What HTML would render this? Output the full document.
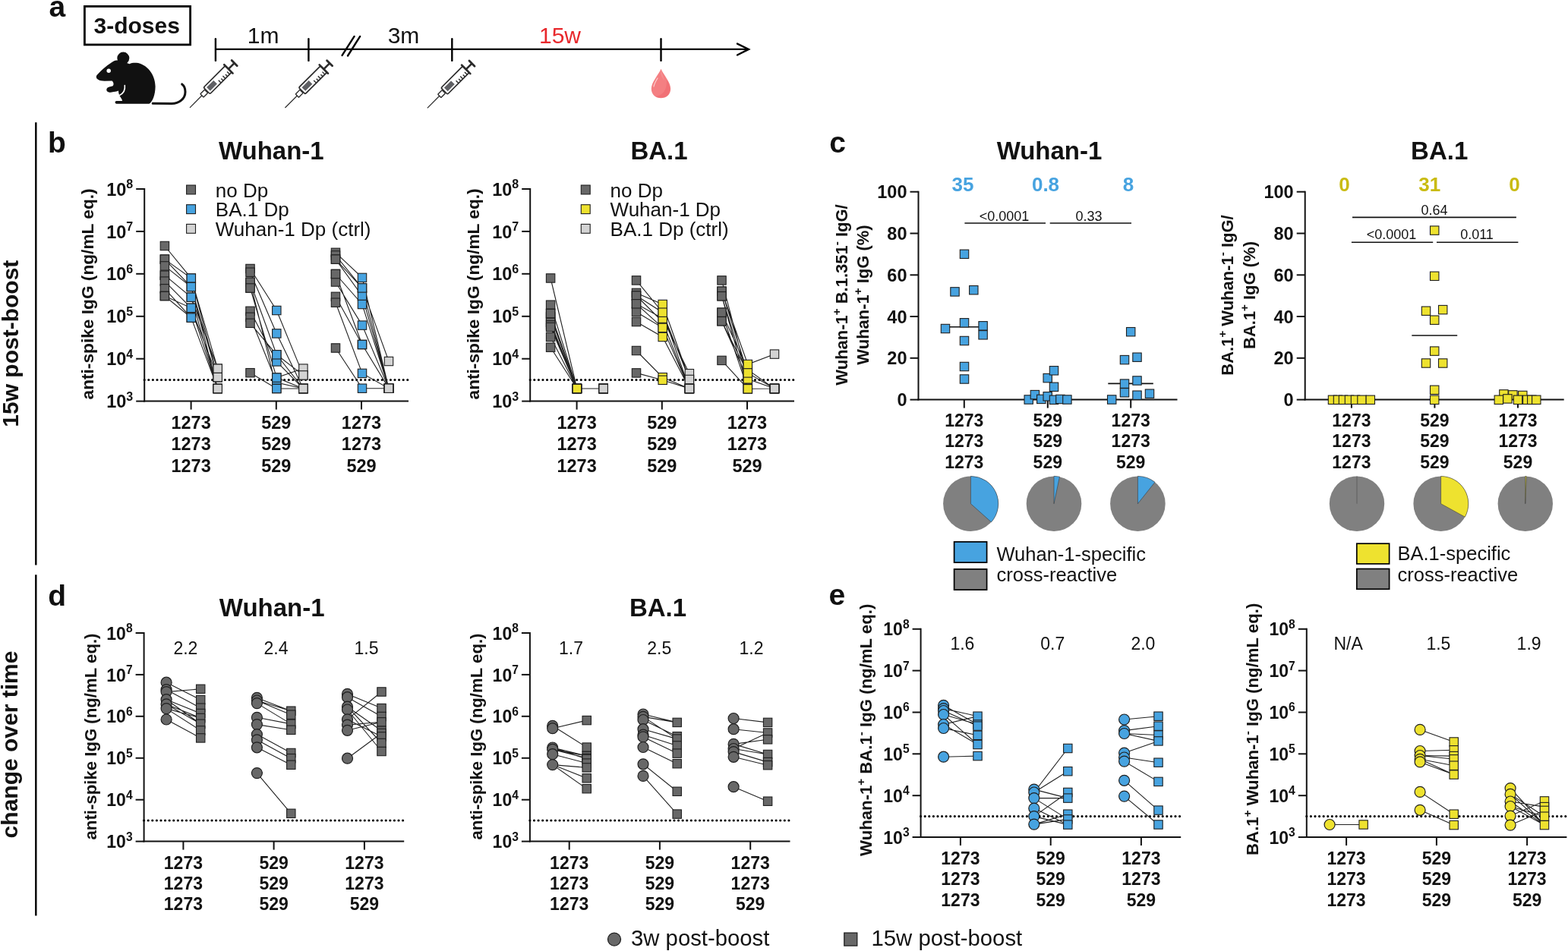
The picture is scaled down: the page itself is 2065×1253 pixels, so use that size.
<!DOCTYPE html><html><head><meta charset="utf-8"><title>Figure</title><style>html,body{margin:0;padding:0;background:#fff;width:2065px;height:1253px;overflow:hidden}svg{display:block}</style></head><body><svg width="2065" height="1253" viewBox="0 0 2065 1253" font-family="'Liberation Sans', Arial, Helvetica, sans-serif">
<rect width="2065" height="1253" fill="#fff"/>
<text x="64.5" y="21.8" font-size="39" font-weight="bold" text-anchor="start" fill="#111" >a</text>
<rect x="111.4" y="8.4" width="139.2" height="50.5" fill="none" stroke="#000" stroke-width="2.8"/>
<text x="123.5" y="44.2" font-size="30" font-weight="bold" text-anchor="start" fill="#111" >3-doses</text>
<line x1="283.0" y1="64.9" x2="985.0" y2="64.9" stroke="#000" stroke-width="2.4" />
<line x1="283.9" y1="51.2" x2="283.9" y2="79.9" stroke="#000" stroke-width="2.4" stroke-linecap="round"/>
<line x1="406.4" y1="51.2" x2="406.4" y2="79.9" stroke="#000" stroke-width="2.4" stroke-linecap="round"/>
<line x1="595.3" y1="51.2" x2="595.3" y2="79.9" stroke="#000" stroke-width="2.4" stroke-linecap="round"/>
<line x1="870.5" y1="51.2" x2="870.5" y2="79.9" stroke="#000" stroke-width="2.4" stroke-linecap="round"/>
<path d="M971,57.6 L986,64.9 L971,72.5" fill="none" stroke="#000" stroke-width="2.4" stroke-linecap="round" stroke-linejoin="miter"/>
<line x1="450.6" y1="72.9" x2="466.6" y2="47.9" stroke="#000" stroke-width="2.4" stroke-linecap="round"/>
<line x1="458.0" y1="73.5" x2="474.2" y2="47.9" stroke="#000" stroke-width="2.4" stroke-linecap="round"/>
<text x="346.6" y="56.6" font-size="30" font-weight="normal" text-anchor="middle" fill="#111" >1m</text>
<text x="531.5" y="56.7" font-size="30" font-weight="normal" text-anchor="middle" fill="#111" >3m</text>
<text x="737.5" y="56.7" font-size="30" font-weight="normal" text-anchor="middle" fill="#e8282c" >15w</text>
<g transform="translate(250,141.8) rotate(-45)"><line x1="0" y1="0" x2="23" y2="0" stroke="#2b2b2b" stroke-width="1.2"/><rect x="22.5" y="-3" width="8" height="6" rx="0.8" fill="#fff" stroke="#2b2b2b" stroke-width="1.4"/><rect x="31.5" y="-6" width="40.5" height="12" rx="1.8" fill="#fff" stroke="#2b2b2b" stroke-width="1.7"/><rect x="34.6" y="-3.3" width="12.9" height="6.6" fill="#5f6064"/><line x1="52.2" y1="6" x2="52.2" y2="1.2" stroke="#2b2b2b" stroke-width="1.4"/><line x1="56.2" y1="6" x2="56.2" y2="2.2" stroke="#2b2b2b" stroke-width="1.4"/><line x1="60.2" y1="6" x2="60.2" y2="1.2" stroke="#2b2b2b" stroke-width="1.4"/><line x1="64.2" y1="6" x2="64.2" y2="2.2" stroke="#2b2b2b" stroke-width="1.4"/><line x1="68.2" y1="6" x2="68.2" y2="1.2" stroke="#2b2b2b" stroke-width="1.4"/><line x1="72" y1="-8" x2="72" y2="8" stroke="#2b2b2b" stroke-width="2.6" stroke-linecap="round"/><line x1="72" y1="0" x2="83" y2="0" stroke="#2b2b2b" stroke-width="2.6"/><line x1="83" y1="-5" x2="83" y2="5" stroke="#2b2b2b" stroke-width="2.8" stroke-linecap="round"/></g>
<g transform="translate(375.4,142) rotate(-45)"><line x1="0" y1="0" x2="23" y2="0" stroke="#2b2b2b" stroke-width="1.2"/><rect x="22.5" y="-3" width="8" height="6" rx="0.8" fill="#fff" stroke="#2b2b2b" stroke-width="1.4"/><rect x="31.5" y="-6" width="40.5" height="12" rx="1.8" fill="#fff" stroke="#2b2b2b" stroke-width="1.7"/><rect x="34.6" y="-3.3" width="12.9" height="6.6" fill="#5f6064"/><line x1="52.2" y1="6" x2="52.2" y2="1.2" stroke="#2b2b2b" stroke-width="1.4"/><line x1="56.2" y1="6" x2="56.2" y2="2.2" stroke="#2b2b2b" stroke-width="1.4"/><line x1="60.2" y1="6" x2="60.2" y2="1.2" stroke="#2b2b2b" stroke-width="1.4"/><line x1="64.2" y1="6" x2="64.2" y2="2.2" stroke="#2b2b2b" stroke-width="1.4"/><line x1="68.2" y1="6" x2="68.2" y2="1.2" stroke="#2b2b2b" stroke-width="1.4"/><line x1="72" y1="-8" x2="72" y2="8" stroke="#2b2b2b" stroke-width="2.6" stroke-linecap="round"/><line x1="72" y1="0" x2="83" y2="0" stroke="#2b2b2b" stroke-width="2.6"/><line x1="83" y1="-5" x2="83" y2="5" stroke="#2b2b2b" stroke-width="2.8" stroke-linecap="round"/></g>
<g transform="translate(562.8,142.3) rotate(-45)"><line x1="0" y1="0" x2="23" y2="0" stroke="#2b2b2b" stroke-width="1.2"/><rect x="22.5" y="-3" width="8" height="6" rx="0.8" fill="#fff" stroke="#2b2b2b" stroke-width="1.4"/><rect x="31.5" y="-6" width="40.5" height="12" rx="1.8" fill="#fff" stroke="#2b2b2b" stroke-width="1.7"/><rect x="34.6" y="-3.3" width="12.9" height="6.6" fill="#5f6064"/><line x1="52.2" y1="6" x2="52.2" y2="1.2" stroke="#2b2b2b" stroke-width="1.4"/><line x1="56.2" y1="6" x2="56.2" y2="2.2" stroke="#2b2b2b" stroke-width="1.4"/><line x1="60.2" y1="6" x2="60.2" y2="1.2" stroke="#2b2b2b" stroke-width="1.4"/><line x1="64.2" y1="6" x2="64.2" y2="2.2" stroke="#2b2b2b" stroke-width="1.4"/><line x1="68.2" y1="6" x2="68.2" y2="1.2" stroke="#2b2b2b" stroke-width="1.4"/><line x1="72" y1="-8" x2="72" y2="8" stroke="#2b2b2b" stroke-width="2.6" stroke-linecap="round"/><line x1="72" y1="0" x2="83" y2="0" stroke="#2b2b2b" stroke-width="2.6"/><line x1="83" y1="-5" x2="83" y2="5" stroke="#2b2b2b" stroke-width="2.8" stroke-linecap="round"/></g>
<path d="M870.5,90.7 C874,99 883.2,108 883.2,117 C883.2,124.5 877.5,129.3 870.5,129.3 C863.5,129.3 857.8,124.5 857.8,117 C857.8,108 867,99 870.5,90.7 Z" fill="#f47f82"/>
<path d="M870.5,92 C872,97 874,102 875,106 C871,101 869,97 870.5,92Z" fill="#f69a9b" opacity="0.6"/>
<path d="M878,105 C883,112 883.5,120 880,125 C876,129 868,130 864,127 C872,126 879,119 878,105Z" fill="#ef6b70" opacity="0.7"/>
<path d="M866,103 C863,108 861.5,111 861,114" stroke="#fbd0d0" stroke-width="1.2" fill="none" stroke-linecap="round"/>
<g fill="#111"><circle cx="162.3" cy="76.6" r="8"/><path d="M128,98.5 C126,100.5 126.5,103.5 129.5,105 C131,106 134,106.7 137.5,106.7 L147.5,106.6 C149.8,108.5 150.2,111.5 148.6,113.3 L145,114.2 C141.5,114.6 139.6,117 140.6,119.6 C141.6,122 144.5,121.8 147,121.4 C150.5,121 153.5,120.6 156,119.6 C156,123 157,126 159,128.5 C160,130 161,131.5 161,133 L153.5,133 C151,133 151,136.5 153.5,136.8 L196.5,136.8 C201,134 204.5,125 204.6,114 C204.6,98 193,84 179.5,82.8 C176,82.6 173,83 170.5,84.3 L160,80.5 C156,79 152,79.4 149,81 C143,84.5 135,91 128,98.5 Z"/></g>
<circle cx="143.2" cy="93.2" r="2.7" fill="#fff"/>
<path d="M164.3,112.5 C165,118 162.5,123 157.5,125.5" stroke="#fff" stroke-width="1.6" fill="none" stroke-linecap="round"/>
<path d="M201.2,136.2 L226,136.6 C236,136.6 244,130 244,121 C244,116 242,112.5 239.7,110.9" stroke="#111" stroke-width="3" fill="none" stroke-linecap="round"/>
<line x1="47.3" y1="161.3" x2="47.3" y2="744.5" stroke="#000" stroke-width="2.4" />
<line x1="47.3" y1="757.3" x2="47.3" y2="1206.5" stroke="#000" stroke-width="2.4" />
<text transform="translate(23.5,452.7) rotate(-90)" x="0" y="0" font-size="30" font-weight="bold" text-anchor="middle" fill="#111" >15w post-boost</text>
<text transform="translate(23.4,981.0) rotate(-90)" x="0" y="0" font-size="30" font-weight="bold" text-anchor="middle" fill="#111" >change over time</text>
<text x="63.0" y="201.2" font-size="39" font-weight="bold" text-anchor="start" fill="#111" >b</text>
<text x="864.5" y="200.8" font-size="39" font-weight="bold" text-anchor="start" fill="#111" ></text>
<line x1="190.2" y1="248.0" x2="190.2" y2="529.6" stroke="#111" stroke-width="2" />
<line x1="189.2" y1="528.6" x2="538.0" y2="528.6" stroke="#111" stroke-width="2" />
<line x1="179.2" y1="528.6" x2="190.2" y2="528.6" stroke="#111" stroke-width="2" />
<text x="175.2" y="537.2" font-size="23.5" font-weight="bold" text-anchor="end" fill="#111">10<tspan font-size="16" dy="-9.7">3</tspan></text>
<line x1="179.2" y1="472.7" x2="190.2" y2="472.7" stroke="#111" stroke-width="2" />
<text x="175.2" y="481.3" font-size="23.5" font-weight="bold" text-anchor="end" fill="#111">10<tspan font-size="16" dy="-9.7">4</tspan></text>
<line x1="179.2" y1="416.8" x2="190.2" y2="416.8" stroke="#111" stroke-width="2" />
<text x="175.2" y="425.4" font-size="23.5" font-weight="bold" text-anchor="end" fill="#111">10<tspan font-size="16" dy="-9.7">5</tspan></text>
<line x1="179.2" y1="360.8" x2="190.2" y2="360.8" stroke="#111" stroke-width="2" />
<text x="175.2" y="369.4" font-size="23.5" font-weight="bold" text-anchor="end" fill="#111">10<tspan font-size="16" dy="-9.7">6</tspan></text>
<line x1="179.2" y1="304.9" x2="190.2" y2="304.9" stroke="#111" stroke-width="2" />
<text x="175.2" y="313.5" font-size="23.5" font-weight="bold" text-anchor="end" fill="#111">10<tspan font-size="16" dy="-9.7">7</tspan></text>
<line x1="179.2" y1="249.0" x2="190.2" y2="249.0" stroke="#111" stroke-width="2" />
<text x="175.2" y="257.6" font-size="23.5" font-weight="bold" text-anchor="end" fill="#111">10<tspan font-size="16" dy="-9.7">8</tspan></text>
<line x1="251.6" y1="528.6" x2="251.6" y2="539.6" stroke="#111" stroke-width="2" />
<line x1="363.8" y1="528.6" x2="363.8" y2="539.6" stroke="#111" stroke-width="2" />
<line x1="476.0" y1="528.6" x2="476.0" y2="539.6" stroke="#111" stroke-width="2" />
<text x="251.6" y="565.0" font-size="23.5" font-weight="bold" text-anchor="middle" fill="#111" >1273</text>
<text x="251.6" y="593.3" font-size="23.5" font-weight="bold" text-anchor="middle" fill="#111" >1273</text>
<text x="251.6" y="621.6" font-size="23.5" font-weight="bold" text-anchor="middle" fill="#111" >1273</text>
<text x="363.8" y="565.0" font-size="23.5" font-weight="bold" text-anchor="middle" fill="#111" >529</text>
<text x="363.8" y="593.3" font-size="23.5" font-weight="bold" text-anchor="middle" fill="#111" >529</text>
<text x="363.8" y="621.6" font-size="23.5" font-weight="bold" text-anchor="middle" fill="#111" >529</text>
<text x="476.0" y="565.0" font-size="23.5" font-weight="bold" text-anchor="middle" fill="#111" >1273</text>
<text x="476.0" y="593.3" font-size="23.5" font-weight="bold" text-anchor="middle" fill="#111" >1273</text>
<text x="476.0" y="621.6" font-size="23.5" font-weight="bold" text-anchor="middle" fill="#111" >529</text>
<line x1="190.2" y1="500.5" x2="538.0" y2="500.5" stroke="#000" stroke-width="3.2" stroke-linecap="round" stroke-dasharray="0 5.59"/>
<text x="357.3" y="210.2" font-size="33" font-weight="bold" text-anchor="middle" fill="#111" >Wuhan-1</text>
<text transform="translate(123.0,387.4) rotate(-90)" x="0" y="0" font-size="22.7" font-weight="bold" text-anchor="middle" fill="#111" >anti-spike IgG (ng/mL eq.)</text>
<rect x="245.6" y="244.0" width="11.9" height="11.9" fill="#686868" stroke="#1f1f1f" stroke-width="1.1"/>
<text x="283.8" y="259.5" font-size="26" font-weight="normal" text-anchor="start" fill="#111" >no Dp</text>
<rect x="245.6" y="269.7" width="11.9" height="11.9" fill="#47a3e0" stroke="#1f1f1f" stroke-width="1.1"/>
<text x="283.8" y="285.2" font-size="26" font-weight="normal" text-anchor="start" fill="#111" >BA.1 Dp</text>
<rect x="245.6" y="295.4" width="11.9" height="11.9" fill="#d3d3d3" stroke="#1f1f1f" stroke-width="1.1"/>
<text x="283.8" y="310.9" font-size="26" font-weight="normal" text-anchor="start" fill="#111" >Wuhan-1 Dp (ctrl)</text>
<line x1="698.2" y1="248.0" x2="698.2" y2="529.6" stroke="#111" stroke-width="2" />
<line x1="697.2" y1="528.6" x2="1046.0" y2="528.6" stroke="#111" stroke-width="2" />
<line x1="687.2" y1="528.6" x2="698.2" y2="528.6" stroke="#111" stroke-width="2" />
<text x="683.2" y="537.2" font-size="23.5" font-weight="bold" text-anchor="end" fill="#111">10<tspan font-size="16" dy="-9.7">3</tspan></text>
<line x1="687.2" y1="472.7" x2="698.2" y2="472.7" stroke="#111" stroke-width="2" />
<text x="683.2" y="481.3" font-size="23.5" font-weight="bold" text-anchor="end" fill="#111">10<tspan font-size="16" dy="-9.7">4</tspan></text>
<line x1="687.2" y1="416.8" x2="698.2" y2="416.8" stroke="#111" stroke-width="2" />
<text x="683.2" y="425.4" font-size="23.5" font-weight="bold" text-anchor="end" fill="#111">10<tspan font-size="16" dy="-9.7">5</tspan></text>
<line x1="687.2" y1="360.8" x2="698.2" y2="360.8" stroke="#111" stroke-width="2" />
<text x="683.2" y="369.4" font-size="23.5" font-weight="bold" text-anchor="end" fill="#111">10<tspan font-size="16" dy="-9.7">6</tspan></text>
<line x1="687.2" y1="304.9" x2="698.2" y2="304.9" stroke="#111" stroke-width="2" />
<text x="683.2" y="313.5" font-size="23.5" font-weight="bold" text-anchor="end" fill="#111">10<tspan font-size="16" dy="-9.7">7</tspan></text>
<line x1="687.2" y1="249.0" x2="698.2" y2="249.0" stroke="#111" stroke-width="2" />
<text x="683.2" y="257.6" font-size="23.5" font-weight="bold" text-anchor="end" fill="#111">10<tspan font-size="16" dy="-9.7">8</tspan></text>
<line x1="759.6" y1="528.6" x2="759.6" y2="539.6" stroke="#111" stroke-width="2" />
<line x1="871.8" y1="528.6" x2="871.8" y2="539.6" stroke="#111" stroke-width="2" />
<line x1="984.0" y1="528.6" x2="984.0" y2="539.6" stroke="#111" stroke-width="2" />
<text x="759.6" y="565.0" font-size="23.5" font-weight="bold" text-anchor="middle" fill="#111" >1273</text>
<text x="759.6" y="593.3" font-size="23.5" font-weight="bold" text-anchor="middle" fill="#111" >1273</text>
<text x="759.6" y="621.6" font-size="23.5" font-weight="bold" text-anchor="middle" fill="#111" >1273</text>
<text x="871.8" y="565.0" font-size="23.5" font-weight="bold" text-anchor="middle" fill="#111" >529</text>
<text x="871.8" y="593.3" font-size="23.5" font-weight="bold" text-anchor="middle" fill="#111" >529</text>
<text x="871.8" y="621.6" font-size="23.5" font-weight="bold" text-anchor="middle" fill="#111" >529</text>
<text x="984.0" y="565.0" font-size="23.5" font-weight="bold" text-anchor="middle" fill="#111" >1273</text>
<text x="984.0" y="593.3" font-size="23.5" font-weight="bold" text-anchor="middle" fill="#111" >1273</text>
<text x="984.0" y="621.6" font-size="23.5" font-weight="bold" text-anchor="middle" fill="#111" >529</text>
<line x1="698.2" y1="500.5" x2="1046.0" y2="500.5" stroke="#000" stroke-width="3.2" stroke-linecap="round" stroke-dasharray="0 5.59"/>
<text x="868.0" y="210.2" font-size="33" font-weight="bold" text-anchor="middle" fill="#111" >BA.1</text>
<text transform="translate(631.0,387.4) rotate(-90)" x="0" y="0" font-size="22.7" font-weight="bold" text-anchor="middle" fill="#111" >anti-spike IgG (ng/mL eq.)</text>
<rect x="765.3" y="244.0" width="11.9" height="11.9" fill="#686868" stroke="#1f1f1f" stroke-width="1.1"/>
<text x="803.6" y="259.5" font-size="26" font-weight="normal" text-anchor="start" fill="#111" >no Dp</text>
<rect x="765.3" y="269.7" width="11.9" height="11.9" fill="#eee22f" stroke="#1f1f1f" stroke-width="1.1"/>
<text x="803.6" y="285.2" font-size="26" font-weight="normal" text-anchor="start" fill="#111" >Wuhan-1 Dp</text>
<rect x="765.3" y="295.4" width="11.9" height="11.9" fill="#d3d3d3" stroke="#1f1f1f" stroke-width="1.1"/>
<text x="803.6" y="310.9" font-size="26" font-weight="normal" text-anchor="start" fill="#111" >BA.1 Dp (ctrl)</text>
<path d="M216.9,324.0L251.8,366.6L286.7,497.1 M216.9,341.6L251.8,366.6L286.7,485.7 M216.9,341.6L251.8,378.0L286.7,512.0 M216.9,350.4L251.8,378.0L286.7,497.1 M216.9,362.7L251.8,391.7L286.7,512.0 M216.9,362.7L251.8,391.7L286.7,485.7 M216.9,370.6L251.8,405.8L286.7,512.0 M216.9,380.3L251.8,418.6L286.7,512.0 M216.9,390.0L251.8,405.8L286.7,497.1 M216.9,390.0L251.8,418.6L286.7,512.0" fill="none" stroke="#222" stroke-width="1.1"/>
<rect x="211.2" y="318.3" width="11.4" height="11.4" fill="#686868" stroke="#1f1f1f" stroke-width="1.1"/>
<rect x="211.2" y="335.9" width="11.4" height="11.4" fill="#686868" stroke="#1f1f1f" stroke-width="1.1"/>
<rect x="211.2" y="335.9" width="11.4" height="11.4" fill="#686868" stroke="#1f1f1f" stroke-width="1.1"/>
<rect x="211.2" y="344.7" width="11.4" height="11.4" fill="#686868" stroke="#1f1f1f" stroke-width="1.1"/>
<rect x="211.2" y="357.0" width="11.4" height="11.4" fill="#686868" stroke="#1f1f1f" stroke-width="1.1"/>
<rect x="211.2" y="357.0" width="11.4" height="11.4" fill="#686868" stroke="#1f1f1f" stroke-width="1.1"/>
<rect x="211.2" y="364.9" width="11.4" height="11.4" fill="#686868" stroke="#1f1f1f" stroke-width="1.1"/>
<rect x="211.2" y="374.6" width="11.4" height="11.4" fill="#686868" stroke="#1f1f1f" stroke-width="1.1"/>
<rect x="211.2" y="384.3" width="11.4" height="11.4" fill="#686868" stroke="#1f1f1f" stroke-width="1.1"/>
<rect x="211.2" y="384.3" width="11.4" height="11.4" fill="#686868" stroke="#1f1f1f" stroke-width="1.1"/>
<rect x="246.1" y="360.9" width="11.4" height="11.4" fill="#47a3e0" stroke="#1f1f1f" stroke-width="1.1"/>
<rect x="246.1" y="360.9" width="11.4" height="11.4" fill="#47a3e0" stroke="#1f1f1f" stroke-width="1.1"/>
<rect x="246.1" y="372.3" width="11.4" height="11.4" fill="#47a3e0" stroke="#1f1f1f" stroke-width="1.1"/>
<rect x="246.1" y="372.3" width="11.4" height="11.4" fill="#47a3e0" stroke="#1f1f1f" stroke-width="1.1"/>
<rect x="246.1" y="386.0" width="11.4" height="11.4" fill="#47a3e0" stroke="#1f1f1f" stroke-width="1.1"/>
<rect x="246.1" y="386.0" width="11.4" height="11.4" fill="#47a3e0" stroke="#1f1f1f" stroke-width="1.1"/>
<rect x="246.1" y="400.1" width="11.4" height="11.4" fill="#47a3e0" stroke="#1f1f1f" stroke-width="1.1"/>
<rect x="246.1" y="412.9" width="11.4" height="11.4" fill="#47a3e0" stroke="#1f1f1f" stroke-width="1.1"/>
<rect x="246.1" y="400.1" width="11.4" height="11.4" fill="#47a3e0" stroke="#1f1f1f" stroke-width="1.1"/>
<rect x="246.1" y="412.9" width="11.4" height="11.4" fill="#47a3e0" stroke="#1f1f1f" stroke-width="1.1"/>
<rect x="281.0" y="491.4" width="11.4" height="11.4" fill="#d3d3d3" stroke="#1f1f1f" stroke-width="1.1"/>
<rect x="281.0" y="480.0" width="11.4" height="11.4" fill="#d3d3d3" stroke="#1f1f1f" stroke-width="1.1"/>
<rect x="281.0" y="506.3" width="11.4" height="11.4" fill="#d3d3d3" stroke="#1f1f1f" stroke-width="1.1"/>
<rect x="281.0" y="491.4" width="11.4" height="11.4" fill="#d3d3d3" stroke="#1f1f1f" stroke-width="1.1"/>
<rect x="281.0" y="506.3" width="11.4" height="11.4" fill="#d3d3d3" stroke="#1f1f1f" stroke-width="1.1"/>
<rect x="281.0" y="480.0" width="11.4" height="11.4" fill="#d3d3d3" stroke="#1f1f1f" stroke-width="1.1"/>
<rect x="281.0" y="506.3" width="11.4" height="11.4" fill="#d3d3d3" stroke="#1f1f1f" stroke-width="1.1"/>
<rect x="281.0" y="506.3" width="11.4" height="11.4" fill="#d3d3d3" stroke="#1f1f1f" stroke-width="1.1"/>
<rect x="281.0" y="491.4" width="11.4" height="11.4" fill="#d3d3d3" stroke="#1f1f1f" stroke-width="1.1"/>
<rect x="281.0" y="506.3" width="11.4" height="11.4" fill="#d3d3d3" stroke="#1f1f1f" stroke-width="1.1"/>
<path d="M329.5,354.0L364.3,409.0L399.4,494.4 M329.5,358.7L364.3,439.4L399.4,512.0 M329.5,371.8L364.3,467.3L399.4,512.0 M329.5,379.5L364.3,497.6L399.4,485.6 M329.5,409.8L364.3,476.4L399.4,512.0 M329.5,417.8L364.3,504.0L399.4,512.0 M329.5,425.8L364.3,467.3L399.4,494.4 M329.5,491.2L364.3,512.0L399.4,512.0 M329.5,371.8L364.3,512.0L399.4,512.0 M329.5,379.5L364.3,497.6L399.4,512.0" fill="none" stroke="#222" stroke-width="1.1"/>
<rect x="323.8" y="348.3" width="11.4" height="11.4" fill="#686868" stroke="#1f1f1f" stroke-width="1.1"/>
<rect x="323.8" y="353.0" width="11.4" height="11.4" fill="#686868" stroke="#1f1f1f" stroke-width="1.1"/>
<rect x="323.8" y="366.1" width="11.4" height="11.4" fill="#686868" stroke="#1f1f1f" stroke-width="1.1"/>
<rect x="323.8" y="373.8" width="11.4" height="11.4" fill="#686868" stroke="#1f1f1f" stroke-width="1.1"/>
<rect x="323.8" y="404.1" width="11.4" height="11.4" fill="#686868" stroke="#1f1f1f" stroke-width="1.1"/>
<rect x="323.8" y="412.1" width="11.4" height="11.4" fill="#686868" stroke="#1f1f1f" stroke-width="1.1"/>
<rect x="323.8" y="420.1" width="11.4" height="11.4" fill="#686868" stroke="#1f1f1f" stroke-width="1.1"/>
<rect x="323.8" y="485.5" width="11.4" height="11.4" fill="#686868" stroke="#1f1f1f" stroke-width="1.1"/>
<rect x="323.8" y="366.1" width="11.4" height="11.4" fill="#686868" stroke="#1f1f1f" stroke-width="1.1"/>
<rect x="323.8" y="373.8" width="11.4" height="11.4" fill="#686868" stroke="#1f1f1f" stroke-width="1.1"/>
<rect x="358.6" y="403.3" width="11.4" height="11.4" fill="#47a3e0" stroke="#1f1f1f" stroke-width="1.1"/>
<rect x="358.6" y="433.7" width="11.4" height="11.4" fill="#47a3e0" stroke="#1f1f1f" stroke-width="1.1"/>
<rect x="358.6" y="461.6" width="11.4" height="11.4" fill="#47a3e0" stroke="#1f1f1f" stroke-width="1.1"/>
<rect x="358.6" y="491.9" width="11.4" height="11.4" fill="#47a3e0" stroke="#1f1f1f" stroke-width="1.1"/>
<rect x="358.6" y="470.7" width="11.4" height="11.4" fill="#47a3e0" stroke="#1f1f1f" stroke-width="1.1"/>
<rect x="358.6" y="498.3" width="11.4" height="11.4" fill="#47a3e0" stroke="#1f1f1f" stroke-width="1.1"/>
<rect x="358.6" y="461.6" width="11.4" height="11.4" fill="#47a3e0" stroke="#1f1f1f" stroke-width="1.1"/>
<rect x="358.6" y="506.3" width="11.4" height="11.4" fill="#47a3e0" stroke="#1f1f1f" stroke-width="1.1"/>
<rect x="358.6" y="506.3" width="11.4" height="11.4" fill="#47a3e0" stroke="#1f1f1f" stroke-width="1.1"/>
<rect x="358.6" y="491.9" width="11.4" height="11.4" fill="#47a3e0" stroke="#1f1f1f" stroke-width="1.1"/>
<rect x="393.7" y="488.7" width="11.4" height="11.4" fill="#d3d3d3" stroke="#1f1f1f" stroke-width="1.1"/>
<rect x="393.7" y="506.3" width="11.4" height="11.4" fill="#d3d3d3" stroke="#1f1f1f" stroke-width="1.1"/>
<rect x="393.7" y="506.3" width="11.4" height="11.4" fill="#d3d3d3" stroke="#1f1f1f" stroke-width="1.1"/>
<rect x="393.7" y="479.9" width="11.4" height="11.4" fill="#d3d3d3" stroke="#1f1f1f" stroke-width="1.1"/>
<rect x="393.7" y="506.3" width="11.4" height="11.4" fill="#d3d3d3" stroke="#1f1f1f" stroke-width="1.1"/>
<rect x="393.7" y="506.3" width="11.4" height="11.4" fill="#d3d3d3" stroke="#1f1f1f" stroke-width="1.1"/>
<rect x="393.7" y="488.7" width="11.4" height="11.4" fill="#d3d3d3" stroke="#1f1f1f" stroke-width="1.1"/>
<rect x="393.7" y="506.3" width="11.4" height="11.4" fill="#d3d3d3" stroke="#1f1f1f" stroke-width="1.1"/>
<rect x="393.7" y="506.3" width="11.4" height="11.4" fill="#d3d3d3" stroke="#1f1f1f" stroke-width="1.1"/>
<rect x="393.7" y="506.3" width="11.4" height="11.4" fill="#d3d3d3" stroke="#1f1f1f" stroke-width="1.1"/>
<path d="M442.0,332.8L477.0,365.9L512.0,511.7 M442.0,336.4L477.0,379.4L512.0,476.0 M442.0,341.6L477.0,390.0L512.0,511.7 M442.0,361.0L477.0,401.0L512.0,511.7 M442.0,371.5L477.0,428.6L512.0,511.7 M442.0,390.8L477.0,454.0L512.0,511.7 M442.0,398.7L477.0,491.9L512.0,511.7 M442.0,458.5L477.0,511.7L512.0,511.7 M442.0,341.6L477.0,379.4L512.0,511.7 M442.0,361.0L477.0,454.0L512.0,511.7" fill="none" stroke="#222" stroke-width="1.1"/>
<rect x="436.3" y="327.1" width="11.4" height="11.4" fill="#686868" stroke="#1f1f1f" stroke-width="1.1"/>
<rect x="436.3" y="330.7" width="11.4" height="11.4" fill="#686868" stroke="#1f1f1f" stroke-width="1.1"/>
<rect x="436.3" y="335.9" width="11.4" height="11.4" fill="#686868" stroke="#1f1f1f" stroke-width="1.1"/>
<rect x="436.3" y="355.3" width="11.4" height="11.4" fill="#686868" stroke="#1f1f1f" stroke-width="1.1"/>
<rect x="436.3" y="365.8" width="11.4" height="11.4" fill="#686868" stroke="#1f1f1f" stroke-width="1.1"/>
<rect x="436.3" y="385.1" width="11.4" height="11.4" fill="#686868" stroke="#1f1f1f" stroke-width="1.1"/>
<rect x="436.3" y="393.0" width="11.4" height="11.4" fill="#686868" stroke="#1f1f1f" stroke-width="1.1"/>
<rect x="436.3" y="452.8" width="11.4" height="11.4" fill="#686868" stroke="#1f1f1f" stroke-width="1.1"/>
<rect x="436.3" y="335.9" width="11.4" height="11.4" fill="#686868" stroke="#1f1f1f" stroke-width="1.1"/>
<rect x="436.3" y="355.3" width="11.4" height="11.4" fill="#686868" stroke="#1f1f1f" stroke-width="1.1"/>
<rect x="471.3" y="360.2" width="11.4" height="11.4" fill="#47a3e0" stroke="#1f1f1f" stroke-width="1.1"/>
<rect x="471.3" y="373.7" width="11.4" height="11.4" fill="#47a3e0" stroke="#1f1f1f" stroke-width="1.1"/>
<rect x="471.3" y="384.3" width="11.4" height="11.4" fill="#47a3e0" stroke="#1f1f1f" stroke-width="1.1"/>
<rect x="471.3" y="395.3" width="11.4" height="11.4" fill="#47a3e0" stroke="#1f1f1f" stroke-width="1.1"/>
<rect x="471.3" y="422.9" width="11.4" height="11.4" fill="#47a3e0" stroke="#1f1f1f" stroke-width="1.1"/>
<rect x="471.3" y="448.3" width="11.4" height="11.4" fill="#47a3e0" stroke="#1f1f1f" stroke-width="1.1"/>
<rect x="471.3" y="486.2" width="11.4" height="11.4" fill="#47a3e0" stroke="#1f1f1f" stroke-width="1.1"/>
<rect x="471.3" y="506.0" width="11.4" height="11.4" fill="#47a3e0" stroke="#1f1f1f" stroke-width="1.1"/>
<rect x="471.3" y="373.7" width="11.4" height="11.4" fill="#47a3e0" stroke="#1f1f1f" stroke-width="1.1"/>
<rect x="471.3" y="448.3" width="11.4" height="11.4" fill="#47a3e0" stroke="#1f1f1f" stroke-width="1.1"/>
<rect x="506.3" y="506.0" width="11.4" height="11.4" fill="#d3d3d3" stroke="#1f1f1f" stroke-width="1.1"/>
<rect x="506.3" y="470.3" width="11.4" height="11.4" fill="#d3d3d3" stroke="#1f1f1f" stroke-width="1.1"/>
<rect x="506.3" y="506.0" width="11.4" height="11.4" fill="#d3d3d3" stroke="#1f1f1f" stroke-width="1.1"/>
<rect x="506.3" y="506.0" width="11.4" height="11.4" fill="#d3d3d3" stroke="#1f1f1f" stroke-width="1.1"/>
<rect x="506.3" y="506.0" width="11.4" height="11.4" fill="#d3d3d3" stroke="#1f1f1f" stroke-width="1.1"/>
<rect x="506.3" y="506.0" width="11.4" height="11.4" fill="#d3d3d3" stroke="#1f1f1f" stroke-width="1.1"/>
<rect x="506.3" y="506.0" width="11.4" height="11.4" fill="#d3d3d3" stroke="#1f1f1f" stroke-width="1.1"/>
<rect x="506.3" y="506.0" width="11.4" height="11.4" fill="#d3d3d3" stroke="#1f1f1f" stroke-width="1.1"/>
<rect x="506.3" y="506.0" width="11.4" height="11.4" fill="#d3d3d3" stroke="#1f1f1f" stroke-width="1.1"/>
<rect x="506.3" y="506.0" width="11.4" height="11.4" fill="#d3d3d3" stroke="#1f1f1f" stroke-width="1.1"/>
<path d="M725.1,366.5L759.9,512.0L794.7,512.0 M725.1,401.7L759.9,512.0L794.7,512.0 M725.1,413.0L759.9,512.0L794.7,512.0 M725.1,417.5L759.9,512.0L794.7,512.0 M725.1,424.7L759.9,512.0L794.7,512.0 M725.1,428.3L759.9,512.0L794.7,512.0 M725.1,431.0L759.9,512.0L794.7,512.0 M725.1,444.0L759.9,512.0L794.7,512.0 M725.1,457.7L759.9,512.0L794.7,512.0 M725.1,413.0L759.9,512.0L794.7,512.0" fill="none" stroke="#222" stroke-width="1.1"/>
<rect x="719.4" y="360.8" width="11.4" height="11.4" fill="#686868" stroke="#1f1f1f" stroke-width="1.1"/>
<rect x="719.4" y="396.0" width="11.4" height="11.4" fill="#686868" stroke="#1f1f1f" stroke-width="1.1"/>
<rect x="719.4" y="407.3" width="11.4" height="11.4" fill="#686868" stroke="#1f1f1f" stroke-width="1.1"/>
<rect x="719.4" y="411.8" width="11.4" height="11.4" fill="#686868" stroke="#1f1f1f" stroke-width="1.1"/>
<rect x="719.4" y="419.0" width="11.4" height="11.4" fill="#686868" stroke="#1f1f1f" stroke-width="1.1"/>
<rect x="719.4" y="422.6" width="11.4" height="11.4" fill="#686868" stroke="#1f1f1f" stroke-width="1.1"/>
<rect x="719.4" y="425.3" width="11.4" height="11.4" fill="#686868" stroke="#1f1f1f" stroke-width="1.1"/>
<rect x="719.4" y="438.3" width="11.4" height="11.4" fill="#686868" stroke="#1f1f1f" stroke-width="1.1"/>
<rect x="719.4" y="452.0" width="11.4" height="11.4" fill="#686868" stroke="#1f1f1f" stroke-width="1.1"/>
<rect x="719.4" y="407.3" width="11.4" height="11.4" fill="#686868" stroke="#1f1f1f" stroke-width="1.1"/>
<rect x="754.2" y="506.3" width="11.4" height="11.4" fill="#eee22f" stroke="#1f1f1f" stroke-width="1.1"/>
<rect x="754.2" y="506.3" width="11.4" height="11.4" fill="#eee22f" stroke="#1f1f1f" stroke-width="1.1"/>
<rect x="754.2" y="506.3" width="11.4" height="11.4" fill="#eee22f" stroke="#1f1f1f" stroke-width="1.1"/>
<rect x="754.2" y="506.3" width="11.4" height="11.4" fill="#eee22f" stroke="#1f1f1f" stroke-width="1.1"/>
<rect x="754.2" y="506.3" width="11.4" height="11.4" fill="#eee22f" stroke="#1f1f1f" stroke-width="1.1"/>
<rect x="754.2" y="506.3" width="11.4" height="11.4" fill="#eee22f" stroke="#1f1f1f" stroke-width="1.1"/>
<rect x="754.2" y="506.3" width="11.4" height="11.4" fill="#eee22f" stroke="#1f1f1f" stroke-width="1.1"/>
<rect x="754.2" y="506.3" width="11.4" height="11.4" fill="#eee22f" stroke="#1f1f1f" stroke-width="1.1"/>
<rect x="754.2" y="506.3" width="11.4" height="11.4" fill="#eee22f" stroke="#1f1f1f" stroke-width="1.1"/>
<rect x="754.2" y="506.3" width="11.4" height="11.4" fill="#eee22f" stroke="#1f1f1f" stroke-width="1.1"/>
<rect x="789.0" y="506.3" width="11.4" height="11.4" fill="#d3d3d3" stroke="#1f1f1f" stroke-width="1.1"/>
<rect x="789.0" y="506.3" width="11.4" height="11.4" fill="#d3d3d3" stroke="#1f1f1f" stroke-width="1.1"/>
<rect x="789.0" y="506.3" width="11.4" height="11.4" fill="#d3d3d3" stroke="#1f1f1f" stroke-width="1.1"/>
<rect x="789.0" y="506.3" width="11.4" height="11.4" fill="#d3d3d3" stroke="#1f1f1f" stroke-width="1.1"/>
<rect x="789.0" y="506.3" width="11.4" height="11.4" fill="#d3d3d3" stroke="#1f1f1f" stroke-width="1.1"/>
<rect x="789.0" y="506.3" width="11.4" height="11.4" fill="#d3d3d3" stroke="#1f1f1f" stroke-width="1.1"/>
<rect x="789.0" y="506.3" width="11.4" height="11.4" fill="#d3d3d3" stroke="#1f1f1f" stroke-width="1.1"/>
<rect x="789.0" y="506.3" width="11.4" height="11.4" fill="#d3d3d3" stroke="#1f1f1f" stroke-width="1.1"/>
<rect x="789.0" y="506.3" width="11.4" height="11.4" fill="#d3d3d3" stroke="#1f1f1f" stroke-width="1.1"/>
<rect x="789.0" y="506.3" width="11.4" height="11.4" fill="#d3d3d3" stroke="#1f1f1f" stroke-width="1.1"/>
<path d="M838.0,369.4L872.7,411.7L907.9,512.0 M838.0,385.9L872.7,401.0L907.9,500.0 M838.0,389.5L872.7,424.0L907.9,512.0 M838.0,400.3L872.7,419.6L907.9,492.2 M838.0,411.0L872.7,431.9L907.9,512.0 M838.0,424.0L872.7,444.0L907.9,512.0 M838.0,462.0L872.7,497.2L907.9,512.0 M838.0,491.4L872.7,500.8L907.9,512.0 M838.0,389.5L872.7,411.7L907.9,500.0 M838.0,400.3L872.7,431.9L907.9,512.0" fill="none" stroke="#222" stroke-width="1.1"/>
<rect x="832.3" y="363.7" width="11.4" height="11.4" fill="#686868" stroke="#1f1f1f" stroke-width="1.1"/>
<rect x="832.3" y="380.2" width="11.4" height="11.4" fill="#686868" stroke="#1f1f1f" stroke-width="1.1"/>
<rect x="832.3" y="383.8" width="11.4" height="11.4" fill="#686868" stroke="#1f1f1f" stroke-width="1.1"/>
<rect x="832.3" y="394.6" width="11.4" height="11.4" fill="#686868" stroke="#1f1f1f" stroke-width="1.1"/>
<rect x="832.3" y="405.3" width="11.4" height="11.4" fill="#686868" stroke="#1f1f1f" stroke-width="1.1"/>
<rect x="832.3" y="418.3" width="11.4" height="11.4" fill="#686868" stroke="#1f1f1f" stroke-width="1.1"/>
<rect x="832.3" y="456.3" width="11.4" height="11.4" fill="#686868" stroke="#1f1f1f" stroke-width="1.1"/>
<rect x="832.3" y="485.7" width="11.4" height="11.4" fill="#686868" stroke="#1f1f1f" stroke-width="1.1"/>
<rect x="832.3" y="383.8" width="11.4" height="11.4" fill="#686868" stroke="#1f1f1f" stroke-width="1.1"/>
<rect x="832.3" y="394.6" width="11.4" height="11.4" fill="#686868" stroke="#1f1f1f" stroke-width="1.1"/>
<rect x="867.0" y="406.0" width="11.4" height="11.4" fill="#eee22f" stroke="#1f1f1f" stroke-width="1.1"/>
<rect x="867.0" y="395.3" width="11.4" height="11.4" fill="#eee22f" stroke="#1f1f1f" stroke-width="1.1"/>
<rect x="867.0" y="418.3" width="11.4" height="11.4" fill="#eee22f" stroke="#1f1f1f" stroke-width="1.1"/>
<rect x="867.0" y="413.9" width="11.4" height="11.4" fill="#eee22f" stroke="#1f1f1f" stroke-width="1.1"/>
<rect x="867.0" y="426.2" width="11.4" height="11.4" fill="#eee22f" stroke="#1f1f1f" stroke-width="1.1"/>
<rect x="867.0" y="438.3" width="11.4" height="11.4" fill="#eee22f" stroke="#1f1f1f" stroke-width="1.1"/>
<rect x="867.0" y="491.5" width="11.4" height="11.4" fill="#eee22f" stroke="#1f1f1f" stroke-width="1.1"/>
<rect x="867.0" y="495.1" width="11.4" height="11.4" fill="#eee22f" stroke="#1f1f1f" stroke-width="1.1"/>
<rect x="867.0" y="406.0" width="11.4" height="11.4" fill="#eee22f" stroke="#1f1f1f" stroke-width="1.1"/>
<rect x="867.0" y="426.2" width="11.4" height="11.4" fill="#eee22f" stroke="#1f1f1f" stroke-width="1.1"/>
<rect x="902.2" y="506.3" width="11.4" height="11.4" fill="#d3d3d3" stroke="#1f1f1f" stroke-width="1.1"/>
<rect x="902.2" y="494.3" width="11.4" height="11.4" fill="#d3d3d3" stroke="#1f1f1f" stroke-width="1.1"/>
<rect x="902.2" y="506.3" width="11.4" height="11.4" fill="#d3d3d3" stroke="#1f1f1f" stroke-width="1.1"/>
<rect x="902.2" y="486.5" width="11.4" height="11.4" fill="#d3d3d3" stroke="#1f1f1f" stroke-width="1.1"/>
<rect x="902.2" y="506.3" width="11.4" height="11.4" fill="#d3d3d3" stroke="#1f1f1f" stroke-width="1.1"/>
<rect x="902.2" y="506.3" width="11.4" height="11.4" fill="#d3d3d3" stroke="#1f1f1f" stroke-width="1.1"/>
<rect x="902.2" y="506.3" width="11.4" height="11.4" fill="#d3d3d3" stroke="#1f1f1f" stroke-width="1.1"/>
<rect x="902.2" y="506.3" width="11.4" height="11.4" fill="#d3d3d3" stroke="#1f1f1f" stroke-width="1.1"/>
<rect x="902.2" y="494.3" width="11.4" height="11.4" fill="#d3d3d3" stroke="#1f1f1f" stroke-width="1.1"/>
<rect x="902.2" y="506.3" width="11.4" height="11.4" fill="#d3d3d3" stroke="#1f1f1f" stroke-width="1.1"/>
<path d="M950.5,369.4L984.8,499.3L1020.0,512.0 M950.5,383.7L984.8,491.4L1020.0,512.0 M950.5,390.2L984.8,512.3L1020.0,512.0 M950.5,411.7L984.8,487.1L1020.0,512.0 M950.5,423.2L984.8,499.3L1020.0,512.0 M950.5,474.9L984.8,512.3L1020.0,512.0 M950.5,383.7L984.8,480.0L1020.0,466.6 M950.5,390.2L984.8,499.3L1020.0,512.0 M950.5,411.7L984.8,512.3L1020.0,512.0 M950.5,423.2L984.8,491.4L1020.0,512.0" fill="none" stroke="#222" stroke-width="1.1"/>
<rect x="944.8" y="363.7" width="11.4" height="11.4" fill="#686868" stroke="#1f1f1f" stroke-width="1.1"/>
<rect x="944.8" y="378.0" width="11.4" height="11.4" fill="#686868" stroke="#1f1f1f" stroke-width="1.1"/>
<rect x="944.8" y="384.5" width="11.4" height="11.4" fill="#686868" stroke="#1f1f1f" stroke-width="1.1"/>
<rect x="944.8" y="406.0" width="11.4" height="11.4" fill="#686868" stroke="#1f1f1f" stroke-width="1.1"/>
<rect x="944.8" y="417.5" width="11.4" height="11.4" fill="#686868" stroke="#1f1f1f" stroke-width="1.1"/>
<rect x="944.8" y="469.2" width="11.4" height="11.4" fill="#686868" stroke="#1f1f1f" stroke-width="1.1"/>
<rect x="944.8" y="378.0" width="11.4" height="11.4" fill="#686868" stroke="#1f1f1f" stroke-width="1.1"/>
<rect x="944.8" y="384.5" width="11.4" height="11.4" fill="#686868" stroke="#1f1f1f" stroke-width="1.1"/>
<rect x="944.8" y="406.0" width="11.4" height="11.4" fill="#686868" stroke="#1f1f1f" stroke-width="1.1"/>
<rect x="944.8" y="417.5" width="11.4" height="11.4" fill="#686868" stroke="#1f1f1f" stroke-width="1.1"/>
<rect x="979.1" y="493.6" width="11.4" height="11.4" fill="#eee22f" stroke="#1f1f1f" stroke-width="1.1"/>
<rect x="979.1" y="485.7" width="11.4" height="11.4" fill="#eee22f" stroke="#1f1f1f" stroke-width="1.1"/>
<rect x="979.1" y="506.6" width="11.4" height="11.4" fill="#eee22f" stroke="#1f1f1f" stroke-width="1.1"/>
<rect x="979.1" y="481.4" width="11.4" height="11.4" fill="#eee22f" stroke="#1f1f1f" stroke-width="1.1"/>
<rect x="979.1" y="493.6" width="11.4" height="11.4" fill="#eee22f" stroke="#1f1f1f" stroke-width="1.1"/>
<rect x="979.1" y="506.6" width="11.4" height="11.4" fill="#eee22f" stroke="#1f1f1f" stroke-width="1.1"/>
<rect x="979.1" y="474.3" width="11.4" height="11.4" fill="#eee22f" stroke="#1f1f1f" stroke-width="1.1"/>
<rect x="979.1" y="493.6" width="11.4" height="11.4" fill="#eee22f" stroke="#1f1f1f" stroke-width="1.1"/>
<rect x="979.1" y="506.6" width="11.4" height="11.4" fill="#eee22f" stroke="#1f1f1f" stroke-width="1.1"/>
<rect x="979.1" y="485.7" width="11.4" height="11.4" fill="#eee22f" stroke="#1f1f1f" stroke-width="1.1"/>
<rect x="1014.3" y="506.3" width="11.4" height="11.4" fill="#d3d3d3" stroke="#1f1f1f" stroke-width="1.1"/>
<rect x="1014.3" y="506.3" width="11.4" height="11.4" fill="#d3d3d3" stroke="#1f1f1f" stroke-width="1.1"/>
<rect x="1014.3" y="506.3" width="11.4" height="11.4" fill="#d3d3d3" stroke="#1f1f1f" stroke-width="1.1"/>
<rect x="1014.3" y="506.3" width="11.4" height="11.4" fill="#d3d3d3" stroke="#1f1f1f" stroke-width="1.1"/>
<rect x="1014.3" y="506.3" width="11.4" height="11.4" fill="#d3d3d3" stroke="#1f1f1f" stroke-width="1.1"/>
<rect x="1014.3" y="506.3" width="11.4" height="11.4" fill="#d3d3d3" stroke="#1f1f1f" stroke-width="1.1"/>
<rect x="1014.3" y="460.9" width="11.4" height="11.4" fill="#d3d3d3" stroke="#1f1f1f" stroke-width="1.1"/>
<rect x="1014.3" y="506.3" width="11.4" height="11.4" fill="#d3d3d3" stroke="#1f1f1f" stroke-width="1.1"/>
<rect x="1014.3" y="506.3" width="11.4" height="11.4" fill="#d3d3d3" stroke="#1f1f1f" stroke-width="1.1"/>
<rect x="1014.3" y="506.3" width="11.4" height="11.4" fill="#d3d3d3" stroke="#1f1f1f" stroke-width="1.1"/>
<text x="1092.3" y="200.6" font-size="39" font-weight="bold" text-anchor="start" fill="#111" >c</text>
<line x1="1209.5" y1="251.7" x2="1209.5" y2="527.6" stroke="#111" stroke-width="2" />
<line x1="1208.5" y1="526.6" x2="1550.5" y2="526.6" stroke="#111" stroke-width="2" />
<line x1="1198.5" y1="526.6" x2="1209.5" y2="526.6" stroke="#111" stroke-width="2" />
<text x="1194.5" y="535.2" font-size="23.5" font-weight="bold" text-anchor="end" fill="#111" >0</text>
<line x1="1198.5" y1="471.8" x2="1209.5" y2="471.8" stroke="#111" stroke-width="2" />
<text x="1194.5" y="480.4" font-size="23.5" font-weight="bold" text-anchor="end" fill="#111" >20</text>
<line x1="1198.5" y1="417.0" x2="1209.5" y2="417.0" stroke="#111" stroke-width="2" />
<text x="1194.5" y="425.6" font-size="23.5" font-weight="bold" text-anchor="end" fill="#111" >40</text>
<line x1="1198.5" y1="362.3" x2="1209.5" y2="362.3" stroke="#111" stroke-width="2" />
<text x="1194.5" y="370.9" font-size="23.5" font-weight="bold" text-anchor="end" fill="#111" >60</text>
<line x1="1198.5" y1="307.5" x2="1209.5" y2="307.5" stroke="#111" stroke-width="2" />
<text x="1194.5" y="316.1" font-size="23.5" font-weight="bold" text-anchor="end" fill="#111" >80</text>
<line x1="1198.5" y1="252.7" x2="1209.5" y2="252.7" stroke="#111" stroke-width="2" />
<text x="1194.5" y="261.3" font-size="23.5" font-weight="bold" text-anchor="end" fill="#111" >100</text>
<line x1="1269.8" y1="526.6" x2="1269.8" y2="537.6" stroke="#111" stroke-width="2" />
<line x1="1379.8" y1="526.6" x2="1379.8" y2="537.6" stroke="#111" stroke-width="2" />
<line x1="1489.2" y1="526.6" x2="1489.2" y2="537.6" stroke="#111" stroke-width="2" />
<text x="1269.8" y="562.0" font-size="23" font-weight="bold" text-anchor="middle" fill="#111" >1273</text>
<text x="1269.8" y="589.4" font-size="23" font-weight="bold" text-anchor="middle" fill="#111" >1273</text>
<text x="1269.8" y="616.8" font-size="23" font-weight="bold" text-anchor="middle" fill="#111" >1273</text>
<text x="1379.8" y="562.0" font-size="23" font-weight="bold" text-anchor="middle" fill="#111" >529</text>
<text x="1379.8" y="589.4" font-size="23" font-weight="bold" text-anchor="middle" fill="#111" >529</text>
<text x="1379.8" y="616.8" font-size="23" font-weight="bold" text-anchor="middle" fill="#111" >529</text>
<text x="1489.2" y="562.0" font-size="23" font-weight="bold" text-anchor="middle" fill="#111" >1273</text>
<text x="1489.2" y="589.4" font-size="23" font-weight="bold" text-anchor="middle" fill="#111" >1273</text>
<text x="1489.2" y="616.8" font-size="23" font-weight="bold" text-anchor="middle" fill="#111" >529</text>
<text x="1382.0" y="210.2" font-size="33" font-weight="bold" text-anchor="middle" fill="#111" >Wuhan-1</text>
<text transform="translate(1115.5,388.5) rotate(-90)" font-size="22" font-weight="bold" text-anchor="middle" fill="#111">Wuhan-1<tspan font-size="15" dy="-9">+</tspan><tspan dy="9"> B.1.351</tspan><tspan font-size="15" dy="-9">-</tspan><tspan dy="9"> IgG/</tspan></text>
<text transform="translate(1144,388.5) rotate(-90)" font-size="22" font-weight="bold" text-anchor="middle" fill="#111">Wuhan-1<tspan font-size="15" dy="-9">+</tspan><tspan dy="9"> IgG (%)</tspan></text>
<text x="1268.0" y="252.3" font-size="26" font-weight="bold" text-anchor="middle" fill="#47a3e0" >35</text>
<text x="1377.0" y="252.3" font-size="26" font-weight="bold" text-anchor="middle" fill="#47a3e0" >0.8</text>
<text x="1486.0" y="252.3" font-size="26" font-weight="bold" text-anchor="middle" fill="#47a3e0" >8</text>
<line x1="1270.4" y1="294.0" x2="1377.0" y2="294.0" stroke="#111" stroke-width="1.6" />
<line x1="1382.7" y1="294.0" x2="1490.0" y2="294.0" stroke="#111" stroke-width="1.6" />
<text x="1322.5" y="291.3" font-size="18" font-weight="normal" text-anchor="middle" fill="#111" >&lt;0.0001</text>
<text x="1434.0" y="291.3" font-size="18" font-weight="normal" text-anchor="middle" fill="#111" >0.33</text>
<line x1="1250.0" y1="430.8" x2="1290.6" y2="430.8" stroke="#111" stroke-width="1.6" />
<line x1="1459.3" y1="505.4" x2="1518.8" y2="505.4" stroke="#111" stroke-width="1.6" />
<rect x="1264.3" y="329.1" width="11.4" height="11.4" fill="#47a3e0" stroke="#1f1f1f" stroke-width="1.1"/>
<rect x="1251.8" y="378.7" width="11.4" height="11.4" fill="#47a3e0" stroke="#1f1f1f" stroke-width="1.1"/>
<rect x="1276.6" y="376.5" width="11.4" height="11.4" fill="#47a3e0" stroke="#1f1f1f" stroke-width="1.1"/>
<rect x="1264.3" y="419.6" width="11.4" height="11.4" fill="#47a3e0" stroke="#1f1f1f" stroke-width="1.1"/>
<rect x="1239.3" y="427.3" width="11.4" height="11.4" fill="#47a3e0" stroke="#1f1f1f" stroke-width="1.1"/>
<rect x="1288.9" y="423.6" width="11.4" height="11.4" fill="#47a3e0" stroke="#1f1f1f" stroke-width="1.1"/>
<rect x="1288.9" y="435.6" width="11.4" height="11.4" fill="#47a3e0" stroke="#1f1f1f" stroke-width="1.1"/>
<rect x="1264.3" y="443.3" width="11.4" height="11.4" fill="#47a3e0" stroke="#1f1f1f" stroke-width="1.1"/>
<rect x="1264.3" y="477.3" width="11.4" height="11.4" fill="#47a3e0" stroke="#1f1f1f" stroke-width="1.1"/>
<rect x="1264.3" y="493.8" width="11.4" height="11.4" fill="#47a3e0" stroke="#1f1f1f" stroke-width="1.1"/>
<rect x="1349.0" y="520.8" width="11.4" height="11.4" fill="#47a3e0" stroke="#1f1f1f" stroke-width="1.1"/>
<rect x="1357.2" y="514.4" width="11.4" height="11.4" fill="#47a3e0" stroke="#1f1f1f" stroke-width="1.1"/>
<rect x="1365.6" y="520.2" width="11.4" height="11.4" fill="#47a3e0" stroke="#1f1f1f" stroke-width="1.1"/>
<rect x="1374.0" y="516.6" width="11.4" height="11.4" fill="#47a3e0" stroke="#1f1f1f" stroke-width="1.1"/>
<rect x="1374.0" y="492.4" width="11.4" height="11.4" fill="#47a3e0" stroke="#1f1f1f" stroke-width="1.1"/>
<rect x="1382.3" y="482.6" width="11.4" height="11.4" fill="#47a3e0" stroke="#1f1f1f" stroke-width="1.1"/>
<rect x="1382.3" y="504.1" width="11.4" height="11.4" fill="#47a3e0" stroke="#1f1f1f" stroke-width="1.1"/>
<rect x="1382.3" y="521.1" width="11.4" height="11.4" fill="#47a3e0" stroke="#1f1f1f" stroke-width="1.1"/>
<rect x="1390.7" y="520.3" width="11.4" height="11.4" fill="#47a3e0" stroke="#1f1f1f" stroke-width="1.1"/>
<rect x="1399.7" y="520.8" width="11.4" height="11.4" fill="#47a3e0" stroke="#1f1f1f" stroke-width="1.1"/>
<rect x="1483.5" y="431.5" width="11.4" height="11.4" fill="#47a3e0" stroke="#1f1f1f" stroke-width="1.1"/>
<rect x="1475.3" y="468.4" width="11.4" height="11.4" fill="#47a3e0" stroke="#1f1f1f" stroke-width="1.1"/>
<rect x="1491.8" y="465.0" width="11.4" height="11.4" fill="#47a3e0" stroke="#1f1f1f" stroke-width="1.1"/>
<rect x="1491.8" y="495.8" width="11.4" height="11.4" fill="#47a3e0" stroke="#1f1f1f" stroke-width="1.1"/>
<rect x="1475.3" y="499.9" width="11.4" height="11.4" fill="#47a3e0" stroke="#1f1f1f" stroke-width="1.1"/>
<rect x="1475.3" y="511.6" width="11.4" height="11.4" fill="#47a3e0" stroke="#1f1f1f" stroke-width="1.1"/>
<rect x="1491.8" y="515.0" width="11.4" height="11.4" fill="#47a3e0" stroke="#1f1f1f" stroke-width="1.1"/>
<rect x="1508.3" y="513.0" width="11.4" height="11.4" fill="#47a3e0" stroke="#1f1f1f" stroke-width="1.1"/>
<rect x="1458.5" y="520.8" width="11.4" height="11.4" fill="#47a3e0" stroke="#1f1f1f" stroke-width="1.1"/>
<circle cx="1278.4" cy="663.7" r="36.3" fill="#808080"/>
<path d="M1278.4,663.7 L1278.4,627.4000000000001 A36.3,36.3 0 0 1 1305.48,687.88 Z" fill="#47a3e0" stroke="#3a3a3a" stroke-width="0.6"/>
<circle cx="1388" cy="663.7" r="36.3" fill="#808080"/>
<path d="M1388,663.7 L1388,627.4000000000001 A36.3,36.3 0 0 1 1395.47,628.18 Z" fill="#47a3e0" stroke="#3a3a3a" stroke-width="0.6"/>
<circle cx="1498.4" cy="663.7" r="36.3" fill="#808080"/>
<path d="M1498.4,663.7 L1498.4,627.4000000000001 A36.3,36.3 0 0 1 1521.01,635.30 Z" fill="#47a3e0" stroke="#3a3a3a" stroke-width="0.6"/>
<rect x="1256.6" y="713.9" width="43" height="27.2" fill="#47a3e0" stroke="#000" stroke-width="1.7"/>
<rect x="1256.6" y="749.9" width="43" height="27.2" fill="#808080" stroke="#000" stroke-width="1.7"/>
<text x="1312.5" y="738.7" font-size="25.5" font-weight="normal" text-anchor="start" fill="#111" >Wuhan-1-specific</text>
<text x="1312.5" y="766.3" font-size="25.5" font-weight="normal" text-anchor="start" fill="#111" >cross-reactive</text>
<line x1="1718.7" y1="251.7" x2="1718.7" y2="527.6" stroke="#111" stroke-width="2" />
<line x1="1717.7" y1="526.6" x2="2059.7" y2="526.6" stroke="#111" stroke-width="2" />
<line x1="1707.7" y1="526.6" x2="1718.7" y2="526.6" stroke="#111" stroke-width="2" />
<text x="1703.7" y="535.2" font-size="23.5" font-weight="bold" text-anchor="end" fill="#111" >0</text>
<line x1="1707.7" y1="471.8" x2="1718.7" y2="471.8" stroke="#111" stroke-width="2" />
<text x="1703.7" y="480.4" font-size="23.5" font-weight="bold" text-anchor="end" fill="#111" >20</text>
<line x1="1707.7" y1="417.0" x2="1718.7" y2="417.0" stroke="#111" stroke-width="2" />
<text x="1703.7" y="425.6" font-size="23.5" font-weight="bold" text-anchor="end" fill="#111" >40</text>
<line x1="1707.7" y1="362.3" x2="1718.7" y2="362.3" stroke="#111" stroke-width="2" />
<text x="1703.7" y="370.9" font-size="23.5" font-weight="bold" text-anchor="end" fill="#111" >60</text>
<line x1="1707.7" y1="307.5" x2="1718.7" y2="307.5" stroke="#111" stroke-width="2" />
<text x="1703.7" y="316.1" font-size="23.5" font-weight="bold" text-anchor="end" fill="#111" >80</text>
<line x1="1707.7" y1="252.7" x2="1718.7" y2="252.7" stroke="#111" stroke-width="2" />
<text x="1703.7" y="261.3" font-size="23.5" font-weight="bold" text-anchor="end" fill="#111" >100</text>
<line x1="1779.9" y1="526.6" x2="1779.9" y2="537.6" stroke="#111" stroke-width="2" />
<line x1="1889.4" y1="526.6" x2="1889.4" y2="537.6" stroke="#111" stroke-width="2" />
<line x1="1999.0" y1="526.6" x2="1999.0" y2="537.6" stroke="#111" stroke-width="2" />
<text x="1779.9" y="562.0" font-size="23" font-weight="bold" text-anchor="middle" fill="#111" >1273</text>
<text x="1779.9" y="589.4" font-size="23" font-weight="bold" text-anchor="middle" fill="#111" >1273</text>
<text x="1779.9" y="616.8" font-size="23" font-weight="bold" text-anchor="middle" fill="#111" >1273</text>
<text x="1889.4" y="562.0" font-size="23" font-weight="bold" text-anchor="middle" fill="#111" >529</text>
<text x="1889.4" y="589.4" font-size="23" font-weight="bold" text-anchor="middle" fill="#111" >529</text>
<text x="1889.4" y="616.8" font-size="23" font-weight="bold" text-anchor="middle" fill="#111" >529</text>
<text x="1999.0" y="562.0" font-size="23" font-weight="bold" text-anchor="middle" fill="#111" >1273</text>
<text x="1999.0" y="589.4" font-size="23" font-weight="bold" text-anchor="middle" fill="#111" >1273</text>
<text x="1999.0" y="616.8" font-size="23" font-weight="bold" text-anchor="middle" fill="#111" >529</text>
<text x="1895.7" y="210.2" font-size="33" font-weight="bold" text-anchor="middle" fill="#111" >BA.1</text>
<text transform="translate(1623.5,389) rotate(-90)" font-size="22" font-weight="bold" text-anchor="middle" fill="#111">BA.1<tspan font-size="15" dy="-9">+</tspan><tspan dy="9"> Wuhan-1</tspan><tspan font-size="15" dy="-9">-</tspan><tspan dy="9"> IgG/</tspan></text>
<text transform="translate(1653,389) rotate(-90)" font-size="22" font-weight="bold" text-anchor="middle" fill="#111">BA.1<tspan font-size="15" dy="-9">+</tspan><tspan dy="9"> IgG (%)</tspan></text>
<text x="1770.4" y="252.3" font-size="26" font-weight="bold" text-anchor="middle" fill="#c9bb12" >0</text>
<text x="1882.7" y="252.3" font-size="26" font-weight="bold" text-anchor="middle" fill="#c9bb12" >31</text>
<text x="1994.6" y="252.3" font-size="26" font-weight="bold" text-anchor="middle" fill="#c9bb12" >0</text>
<line x1="1781.0" y1="286.4" x2="1996.9" y2="286.4" stroke="#111" stroke-width="1.6" />
<line x1="1779.9" y1="319.3" x2="1887.2" y2="319.3" stroke="#111" stroke-width="1.6" />
<line x1="1892.0" y1="319.3" x2="1999.4" y2="319.3" stroke="#111" stroke-width="1.6" />
<text x="1889.0" y="282.5" font-size="18" font-weight="normal" text-anchor="middle" fill="#111" >0.64</text>
<text x="1832.5" y="315.0" font-size="18" font-weight="normal" text-anchor="middle" fill="#111" >&lt;0.0001</text>
<text x="1945.0" y="315.0" font-size="18" font-weight="normal" text-anchor="middle" fill="#111" >0.011</text>
<line x1="1859.3" y1="442.0" x2="1919.2" y2="442.0" stroke="#111" stroke-width="1.6" />
<rect x="1749.3" y="521.1" width="11.4" height="11.4" fill="#eee22f" stroke="#1f1f1f" stroke-width="1.1"/>
<rect x="1756.3" y="521.1" width="11.4" height="11.4" fill="#eee22f" stroke="#1f1f1f" stroke-width="1.1"/>
<rect x="1763.3" y="521.1" width="11.4" height="11.4" fill="#eee22f" stroke="#1f1f1f" stroke-width="1.1"/>
<rect x="1771.3" y="521.1" width="11.4" height="11.4" fill="#eee22f" stroke="#1f1f1f" stroke-width="1.1"/>
<rect x="1779.3" y="521.1" width="11.4" height="11.4" fill="#eee22f" stroke="#1f1f1f" stroke-width="1.1"/>
<rect x="1787.8" y="521.1" width="11.4" height="11.4" fill="#eee22f" stroke="#1f1f1f" stroke-width="1.1"/>
<rect x="1799.1" y="521.1" width="11.4" height="11.4" fill="#eee22f" stroke="#1f1f1f" stroke-width="1.1"/>
<rect x="1883.5" y="297.9" width="11.4" height="11.4" fill="#eee22f" stroke="#1f1f1f" stroke-width="1.1"/>
<rect x="1883.5" y="358.1" width="11.4" height="11.4" fill="#eee22f" stroke="#1f1f1f" stroke-width="1.1"/>
<rect x="1872.3" y="404.0" width="11.4" height="11.4" fill="#eee22f" stroke="#1f1f1f" stroke-width="1.1"/>
<rect x="1894.5" y="402.4" width="11.4" height="11.4" fill="#eee22f" stroke="#1f1f1f" stroke-width="1.1"/>
<rect x="1883.5" y="416.0" width="11.4" height="11.4" fill="#eee22f" stroke="#1f1f1f" stroke-width="1.1"/>
<rect x="1883.5" y="456.9" width="11.4" height="11.4" fill="#eee22f" stroke="#1f1f1f" stroke-width="1.1"/>
<rect x="1872.3" y="472.8" width="11.4" height="11.4" fill="#eee22f" stroke="#1f1f1f" stroke-width="1.1"/>
<rect x="1894.5" y="472.8" width="11.4" height="11.4" fill="#eee22f" stroke="#1f1f1f" stroke-width="1.1"/>
<rect x="1883.5" y="508.1" width="11.4" height="11.4" fill="#eee22f" stroke="#1f1f1f" stroke-width="1.1"/>
<rect x="1883.5" y="521.1" width="11.4" height="11.4" fill="#eee22f" stroke="#1f1f1f" stroke-width="1.1"/>
<rect x="1974.7" y="513.7" width="11.4" height="11.4" fill="#eee22f" stroke="#1f1f1f" stroke-width="1.1"/>
<rect x="1986.7" y="514.7" width="11.4" height="11.4" fill="#eee22f" stroke="#1f1f1f" stroke-width="1.1"/>
<rect x="1999.6" y="515.3" width="11.4" height="11.4" fill="#eee22f" stroke="#1f1f1f" stroke-width="1.1"/>
<rect x="1968.1" y="521.1" width="11.4" height="11.4" fill="#eee22f" stroke="#1f1f1f" stroke-width="1.1"/>
<rect x="1979.7" y="519.7" width="11.4" height="11.4" fill="#eee22f" stroke="#1f1f1f" stroke-width="1.1"/>
<rect x="1993.3" y="521.1" width="11.4" height="11.4" fill="#eee22f" stroke="#1f1f1f" stroke-width="1.1"/>
<rect x="2005.6" y="521.1" width="11.4" height="11.4" fill="#eee22f" stroke="#1f1f1f" stroke-width="1.1"/>
<rect x="2011.6" y="521.1" width="11.4" height="11.4" fill="#eee22f" stroke="#1f1f1f" stroke-width="1.1"/>
<rect x="2017.6" y="521.1" width="11.4" height="11.4" fill="#eee22f" stroke="#1f1f1f" stroke-width="1.1"/>
<circle cx="1787" cy="663.7" r="36.2" fill="#808080"/>
<line x1="1787.0" y1="663.7" x2="1787.0" y2="627.5" stroke="#555" stroke-width="0.8" />
<circle cx="1897.6" cy="663.7" r="36.2" fill="#808080"/>
<path d="M1897.6,663.7 L1897.6,627.5 A36.2,36.2 0 0 1 1929.32,681.14 Z" fill="#eee22f" stroke="#3a3a3a" stroke-width="0.6"/>
<circle cx="2008.8" cy="663.7" r="36.2" fill="#808080"/>
<path d="M2008.8,663.7 L2008.8,627.5 A36.2,36.2 0 0 1 2010.16,627.53 Z" fill="#eee22f" stroke="#3a3a3a" stroke-width="0.6"/>
<rect x="1786.8" y="716.2" width="42.8" height="26.7" fill="#eee22f" stroke="#000" stroke-width="1.7"/>
<rect x="1786.8" y="749.5" width="42.8" height="26.7" fill="#808080" stroke="#000" stroke-width="1.7"/>
<text x="1840.5" y="737.5" font-size="25.5" font-weight="normal" text-anchor="start" fill="#111" >BA.1-specific</text>
<text x="1840.5" y="765.8" font-size="25.5" font-weight="normal" text-anchor="start" fill="#111" >cross-reactive</text>
<text x="63.3" y="797.5" font-size="39" font-weight="bold" text-anchor="start" fill="#111" >d</text>
<line x1="189.6" y1="833.0" x2="189.6" y2="1109.6" stroke="#111" stroke-width="2" />
<line x1="188.6" y1="1108.6" x2="532.2" y2="1108.6" stroke="#111" stroke-width="2" />
<line x1="178.6" y1="1108.6" x2="189.6" y2="1108.6" stroke="#111" stroke-width="2" />
<text x="174.6" y="1117.2" font-size="23" font-weight="bold" text-anchor="end" fill="#111">10<tspan font-size="15.6" dy="-9.7">3</tspan></text>
<line x1="178.6" y1="1053.7" x2="189.6" y2="1053.7" stroke="#111" stroke-width="2" />
<text x="174.6" y="1062.3" font-size="23" font-weight="bold" text-anchor="end" fill="#111">10<tspan font-size="15.6" dy="-9.7">4</tspan></text>
<line x1="178.6" y1="998.8" x2="189.6" y2="998.8" stroke="#111" stroke-width="2" />
<text x="174.6" y="1007.4" font-size="23" font-weight="bold" text-anchor="end" fill="#111">10<tspan font-size="15.6" dy="-9.7">5</tspan></text>
<line x1="178.6" y1="943.8" x2="189.6" y2="943.8" stroke="#111" stroke-width="2" />
<text x="174.6" y="952.4" font-size="23" font-weight="bold" text-anchor="end" fill="#111">10<tspan font-size="15.6" dy="-9.7">6</tspan></text>
<line x1="178.6" y1="888.9" x2="189.6" y2="888.9" stroke="#111" stroke-width="2" />
<text x="174.6" y="897.5" font-size="23" font-weight="bold" text-anchor="end" fill="#111">10<tspan font-size="15.6" dy="-9.7">7</tspan></text>
<line x1="178.6" y1="834.0" x2="189.6" y2="834.0" stroke="#111" stroke-width="2" />
<text x="174.6" y="842.6" font-size="23" font-weight="bold" text-anchor="end" fill="#111">10<tspan font-size="15.6" dy="-9.7">8</tspan></text>
<line x1="241.4" y1="1108.6" x2="241.4" y2="1119.6" stroke="#111" stroke-width="2" />
<line x1="360.6" y1="1108.6" x2="360.6" y2="1119.6" stroke="#111" stroke-width="2" />
<line x1="479.9" y1="1108.6" x2="479.9" y2="1119.6" stroke="#111" stroke-width="2" />
<text x="241.4" y="1144.7" font-size="23" font-weight="bold" text-anchor="middle" fill="#111" >1273</text>
<text x="241.4" y="1171.9" font-size="23" font-weight="bold" text-anchor="middle" fill="#111" >1273</text>
<text x="241.4" y="1199.1" font-size="23" font-weight="bold" text-anchor="middle" fill="#111" >1273</text>
<text x="360.6" y="1144.7" font-size="23" font-weight="bold" text-anchor="middle" fill="#111" >529</text>
<text x="360.6" y="1171.9" font-size="23" font-weight="bold" text-anchor="middle" fill="#111" >529</text>
<text x="360.6" y="1199.1" font-size="23" font-weight="bold" text-anchor="middle" fill="#111" >529</text>
<text x="479.9" y="1144.7" font-size="23" font-weight="bold" text-anchor="middle" fill="#111" >1273</text>
<text x="479.9" y="1171.9" font-size="23" font-weight="bold" text-anchor="middle" fill="#111" >1273</text>
<text x="479.9" y="1199.1" font-size="23" font-weight="bold" text-anchor="middle" fill="#111" >529</text>
<line x1="189.6" y1="1081.0" x2="532.2" y2="1081.0" stroke="#000" stroke-width="3.2" stroke-linecap="round" stroke-dasharray="0 5.59"/>
<text x="358.2" y="811.6" font-size="33" font-weight="bold" text-anchor="middle" fill="#111" >Wuhan-1</text>
<text transform="translate(127.1,970.5) rotate(-90)" x="0" y="0" font-size="22.2" font-weight="bold" text-anchor="middle" fill="#111" >anti-spike IgG (ng/mL eq.)</text>
<line x1="697.9" y1="833.0" x2="697.9" y2="1109.6" stroke="#111" stroke-width="2" />
<line x1="696.9" y1="1108.6" x2="1040.5" y2="1108.6" stroke="#111" stroke-width="2" />
<line x1="686.9" y1="1108.6" x2="697.9" y2="1108.6" stroke="#111" stroke-width="2" />
<text x="682.9" y="1117.2" font-size="23" font-weight="bold" text-anchor="end" fill="#111">10<tspan font-size="15.6" dy="-9.7">3</tspan></text>
<line x1="686.9" y1="1053.7" x2="697.9" y2="1053.7" stroke="#111" stroke-width="2" />
<text x="682.9" y="1062.3" font-size="23" font-weight="bold" text-anchor="end" fill="#111">10<tspan font-size="15.6" dy="-9.7">4</tspan></text>
<line x1="686.9" y1="998.8" x2="697.9" y2="998.8" stroke="#111" stroke-width="2" />
<text x="682.9" y="1007.4" font-size="23" font-weight="bold" text-anchor="end" fill="#111">10<tspan font-size="15.6" dy="-9.7">5</tspan></text>
<line x1="686.9" y1="943.8" x2="697.9" y2="943.8" stroke="#111" stroke-width="2" />
<text x="682.9" y="952.4" font-size="23" font-weight="bold" text-anchor="end" fill="#111">10<tspan font-size="15.6" dy="-9.7">6</tspan></text>
<line x1="686.9" y1="888.9" x2="697.9" y2="888.9" stroke="#111" stroke-width="2" />
<text x="682.9" y="897.5" font-size="23" font-weight="bold" text-anchor="end" fill="#111">10<tspan font-size="15.6" dy="-9.7">7</tspan></text>
<line x1="686.9" y1="834.0" x2="697.9" y2="834.0" stroke="#111" stroke-width="2" />
<text x="682.9" y="842.6" font-size="23" font-weight="bold" text-anchor="end" fill="#111">10<tspan font-size="15.6" dy="-9.7">8</tspan></text>
<line x1="749.7" y1="1108.6" x2="749.7" y2="1119.6" stroke="#111" stroke-width="2" />
<line x1="868.9" y1="1108.6" x2="868.9" y2="1119.6" stroke="#111" stroke-width="2" />
<line x1="988.2" y1="1108.6" x2="988.2" y2="1119.6" stroke="#111" stroke-width="2" />
<text x="749.7" y="1144.7" font-size="23" font-weight="bold" text-anchor="middle" fill="#111" >1273</text>
<text x="749.7" y="1171.9" font-size="23" font-weight="bold" text-anchor="middle" fill="#111" >1273</text>
<text x="749.7" y="1199.1" font-size="23" font-weight="bold" text-anchor="middle" fill="#111" >1273</text>
<text x="868.9" y="1144.7" font-size="23" font-weight="bold" text-anchor="middle" fill="#111" >529</text>
<text x="868.9" y="1171.9" font-size="23" font-weight="bold" text-anchor="middle" fill="#111" >529</text>
<text x="868.9" y="1199.1" font-size="23" font-weight="bold" text-anchor="middle" fill="#111" >529</text>
<text x="988.2" y="1144.7" font-size="23" font-weight="bold" text-anchor="middle" fill="#111" >1273</text>
<text x="988.2" y="1171.9" font-size="23" font-weight="bold" text-anchor="middle" fill="#111" >1273</text>
<text x="988.2" y="1199.1" font-size="23" font-weight="bold" text-anchor="middle" fill="#111" >529</text>
<line x1="697.9" y1="1081.0" x2="1040.5" y2="1081.0" stroke="#000" stroke-width="3.2" stroke-linecap="round" stroke-dasharray="0 5.59"/>
<text x="866.5" y="811.6" font-size="33" font-weight="bold" text-anchor="middle" fill="#111" >BA.1</text>
<text transform="translate(635.4,970.5) rotate(-90)" x="0" y="0" font-size="22.2" font-weight="bold" text-anchor="middle" fill="#111" >anti-spike IgG (ng/mL eq.)</text>
<text x="244.4" y="861.5" font-size="23" font-weight="normal" text-anchor="middle" fill="#111" >2.2</text>
<text x="363.5" y="861.5" font-size="23" font-weight="normal" text-anchor="middle" fill="#111" >2.4</text>
<text x="482.5" y="861.5" font-size="23" font-weight="normal" text-anchor="middle" fill="#111" >1.5</text>
<text x="752.0" y="861.5" font-size="23" font-weight="normal" text-anchor="middle" fill="#111" >1.7</text>
<text x="868.3" y="861.5" font-size="23" font-weight="normal" text-anchor="middle" fill="#111" >2.5</text>
<text x="989.5" y="861.5" font-size="23" font-weight="normal" text-anchor="middle" fill="#111" >1.2</text>
<path d="M219.1,899.2L264.2,922.0 M219.1,911.6L264.2,907.8 M219.1,908.7L264.2,932.7 M219.1,921.7L264.2,940.0 M219.1,927.9L264.2,946.0 M219.1,921.7L264.2,953.8 M219.1,933.6L264.2,962.4 M219.1,927.9L264.2,953.8 M219.1,933.6L264.2,946.0 M219.1,948.0L264.2,972.4" fill="none" stroke="#222" stroke-width="1.1"/>
<circle cx="219.1" cy="899.2" r="7.0" fill="#686868" stroke="#1f1f1f" stroke-width="1.2"/>
<circle cx="219.1" cy="908.7" r="7.0" fill="#686868" stroke="#1f1f1f" stroke-width="1.2"/>
<circle cx="219.1" cy="911.6" r="7.0" fill="#686868" stroke="#1f1f1f" stroke-width="1.2"/>
<circle cx="219.1" cy="921.7" r="7.0" fill="#686868" stroke="#1f1f1f" stroke-width="1.2"/>
<circle cx="219.1" cy="927.9" r="7.0" fill="#686868" stroke="#1f1f1f" stroke-width="1.2"/>
<circle cx="219.1" cy="933.6" r="7.0" fill="#686868" stroke="#1f1f1f" stroke-width="1.2"/>
<circle cx="219.1" cy="948.0" r="7.0" fill="#686868" stroke="#1f1f1f" stroke-width="1.2"/>
<rect x="258.5" y="902.1" width="11.4" height="11.4" fill="#686868" stroke="#1f1f1f" stroke-width="1.1"/>
<rect x="258.5" y="916.3" width="11.4" height="11.4" fill="#686868" stroke="#1f1f1f" stroke-width="1.1"/>
<rect x="258.5" y="927.0" width="11.4" height="11.4" fill="#686868" stroke="#1f1f1f" stroke-width="1.1"/>
<rect x="258.5" y="934.3" width="11.4" height="11.4" fill="#686868" stroke="#1f1f1f" stroke-width="1.1"/>
<rect x="258.5" y="940.3" width="11.4" height="11.4" fill="#686868" stroke="#1f1f1f" stroke-width="1.1"/>
<rect x="258.5" y="948.1" width="11.4" height="11.4" fill="#686868" stroke="#1f1f1f" stroke-width="1.1"/>
<rect x="258.5" y="956.7" width="11.4" height="11.4" fill="#686868" stroke="#1f1f1f" stroke-width="1.1"/>
<rect x="258.5" y="966.7" width="11.4" height="11.4" fill="#686868" stroke="#1f1f1f" stroke-width="1.1"/>
<path d="M338.4,919.4L383.3,936.7 M338.4,923.0L383.3,936.7 M338.4,926.6L383.3,953.9 M338.4,945.3L383.3,953.9 M338.4,954.6L383.3,961.8 M338.4,967.6L383.3,992.0 M338.4,974.8L383.3,999.2 M338.4,984.8L383.3,1007.8 M338.4,1018.6L383.3,1071.8 M338.4,923.0L383.3,941.7" fill="none" stroke="#222" stroke-width="1.1"/>
<circle cx="338.4" cy="919.4" r="7.0" fill="#686868" stroke="#1f1f1f" stroke-width="1.2"/>
<circle cx="338.4" cy="923.0" r="7.0" fill="#686868" stroke="#1f1f1f" stroke-width="1.2"/>
<circle cx="338.4" cy="926.6" r="7.0" fill="#686868" stroke="#1f1f1f" stroke-width="1.2"/>
<circle cx="338.4" cy="945.3" r="7.0" fill="#686868" stroke="#1f1f1f" stroke-width="1.2"/>
<circle cx="338.4" cy="954.6" r="7.0" fill="#686868" stroke="#1f1f1f" stroke-width="1.2"/>
<circle cx="338.4" cy="967.6" r="7.0" fill="#686868" stroke="#1f1f1f" stroke-width="1.2"/>
<circle cx="338.4" cy="974.8" r="7.0" fill="#686868" stroke="#1f1f1f" stroke-width="1.2"/>
<circle cx="338.4" cy="984.8" r="7.0" fill="#686868" stroke="#1f1f1f" stroke-width="1.2"/>
<circle cx="338.4" cy="1018.6" r="7.0" fill="#686868" stroke="#1f1f1f" stroke-width="1.2"/>
<rect x="377.6" y="931.0" width="11.4" height="11.4" fill="#686868" stroke="#1f1f1f" stroke-width="1.1"/>
<rect x="377.6" y="936.0" width="11.4" height="11.4" fill="#686868" stroke="#1f1f1f" stroke-width="1.1"/>
<rect x="377.6" y="948.2" width="11.4" height="11.4" fill="#686868" stroke="#1f1f1f" stroke-width="1.1"/>
<rect x="377.6" y="956.1" width="11.4" height="11.4" fill="#686868" stroke="#1f1f1f" stroke-width="1.1"/>
<rect x="377.6" y="986.3" width="11.4" height="11.4" fill="#686868" stroke="#1f1f1f" stroke-width="1.1"/>
<rect x="377.6" y="993.5" width="11.4" height="11.4" fill="#686868" stroke="#1f1f1f" stroke-width="1.1"/>
<rect x="377.6" y="1002.1" width="11.4" height="11.4" fill="#686868" stroke="#1f1f1f" stroke-width="1.1"/>
<rect x="377.6" y="1066.1" width="11.4" height="11.4" fill="#686868" stroke="#1f1f1f" stroke-width="1.1"/>
<path d="M457.5,947.9L502.5,911.5 M457.5,999.2L502.5,966.0 M457.5,918.7L502.5,944.0 M457.5,935.0L502.5,990.0 M457.5,914.4L502.5,933.1 M457.5,931.2L502.5,979.0 M457.5,955.1L502.5,951.3 M457.5,962.3L502.5,951.3 M457.5,947.9L502.5,970.4 M457.5,931.2L502.5,962.8" fill="none" stroke="#222" stroke-width="1.1"/>
<circle cx="457.5" cy="914.4" r="7.0" fill="#686868" stroke="#1f1f1f" stroke-width="1.2"/>
<circle cx="457.5" cy="918.7" r="7.0" fill="#686868" stroke="#1f1f1f" stroke-width="1.2"/>
<circle cx="457.5" cy="931.2" r="7.0" fill="#686868" stroke="#1f1f1f" stroke-width="1.2"/>
<circle cx="457.5" cy="935.0" r="7.0" fill="#686868" stroke="#1f1f1f" stroke-width="1.2"/>
<circle cx="457.5" cy="947.9" r="7.0" fill="#686868" stroke="#1f1f1f" stroke-width="1.2"/>
<circle cx="457.5" cy="955.1" r="7.0" fill="#686868" stroke="#1f1f1f" stroke-width="1.2"/>
<circle cx="457.5" cy="962.3" r="7.0" fill="#686868" stroke="#1f1f1f" stroke-width="1.2"/>
<circle cx="457.5" cy="999.2" r="7.0" fill="#686868" stroke="#1f1f1f" stroke-width="1.2"/>
<rect x="496.8" y="905.8" width="11.4" height="11.4" fill="#686868" stroke="#1f1f1f" stroke-width="1.1"/>
<rect x="496.8" y="927.4" width="11.4" height="11.4" fill="#686868" stroke="#1f1f1f" stroke-width="1.1"/>
<rect x="496.8" y="938.3" width="11.4" height="11.4" fill="#686868" stroke="#1f1f1f" stroke-width="1.1"/>
<rect x="496.8" y="945.6" width="11.4" height="11.4" fill="#686868" stroke="#1f1f1f" stroke-width="1.1"/>
<rect x="496.8" y="957.1" width="11.4" height="11.4" fill="#686868" stroke="#1f1f1f" stroke-width="1.1"/>
<rect x="496.8" y="960.3" width="11.4" height="11.4" fill="#686868" stroke="#1f1f1f" stroke-width="1.1"/>
<rect x="496.8" y="964.7" width="11.4" height="11.4" fill="#686868" stroke="#1f1f1f" stroke-width="1.1"/>
<rect x="496.8" y="973.3" width="11.4" height="11.4" fill="#686868" stroke="#1f1f1f" stroke-width="1.1"/>
<rect x="496.8" y="984.3" width="11.4" height="11.4" fill="#686868" stroke="#1f1f1f" stroke-width="1.1"/>
<path d="M727.7,959.7L772.7,949.1 M727.7,956.3L772.7,984.6 M727.7,985.0L772.7,996.0 M727.7,987.4L772.7,998.9 M727.7,985.0L772.7,1000.0 M727.7,993.7L772.7,1005.6 M727.7,1007.6L772.7,1011.4 M727.7,1007.6L772.7,1025.3 M727.7,1007.6L772.7,1039.2 M727.7,987.4L772.7,996.0" fill="none" stroke="#222" stroke-width="1.1"/>
<circle cx="727.7" cy="956.3" r="7.0" fill="#686868" stroke="#1f1f1f" stroke-width="1.2"/>
<circle cx="727.7" cy="959.7" r="7.0" fill="#686868" stroke="#1f1f1f" stroke-width="1.2"/>
<circle cx="727.7" cy="985.0" r="7.0" fill="#686868" stroke="#1f1f1f" stroke-width="1.2"/>
<circle cx="727.7" cy="987.4" r="7.0" fill="#686868" stroke="#1f1f1f" stroke-width="1.2"/>
<circle cx="727.7" cy="993.7" r="7.0" fill="#686868" stroke="#1f1f1f" stroke-width="1.2"/>
<circle cx="727.7" cy="1007.6" r="7.0" fill="#686868" stroke="#1f1f1f" stroke-width="1.2"/>
<rect x="767.0" y="943.4" width="11.4" height="11.4" fill="#686868" stroke="#1f1f1f" stroke-width="1.1"/>
<rect x="767.0" y="978.9" width="11.4" height="11.4" fill="#686868" stroke="#1f1f1f" stroke-width="1.1"/>
<rect x="767.0" y="990.3" width="11.4" height="11.4" fill="#686868" stroke="#1f1f1f" stroke-width="1.1"/>
<rect x="767.0" y="993.2" width="11.4" height="11.4" fill="#686868" stroke="#1f1f1f" stroke-width="1.1"/>
<rect x="767.0" y="994.3" width="11.4" height="11.4" fill="#686868" stroke="#1f1f1f" stroke-width="1.1"/>
<rect x="767.0" y="999.9" width="11.4" height="11.4" fill="#686868" stroke="#1f1f1f" stroke-width="1.1"/>
<rect x="767.0" y="1005.7" width="11.4" height="11.4" fill="#686868" stroke="#1f1f1f" stroke-width="1.1"/>
<rect x="767.0" y="1019.6" width="11.4" height="11.4" fill="#686868" stroke="#1f1f1f" stroke-width="1.1"/>
<rect x="767.0" y="1033.5" width="11.4" height="11.4" fill="#686868" stroke="#1f1f1f" stroke-width="1.1"/>
<path d="M847.0,941.0L891.7,951.9 M847.0,944.4L891.7,951.9 M847.0,948.5L891.7,970.2 M847.0,944.4L891.7,973.6 M847.0,960.7L891.7,973.6 M847.0,968.2L891.7,982.4 M847.0,970.9L891.7,992.6 M847.0,984.5L891.7,1006.2 M847.0,1006.8L891.7,1042.8 M847.0,1022.4L891.7,1072.6" fill="none" stroke="#222" stroke-width="1.1"/>
<circle cx="847.0" cy="941.0" r="7.0" fill="#686868" stroke="#1f1f1f" stroke-width="1.2"/>
<circle cx="847.0" cy="944.4" r="7.0" fill="#686868" stroke="#1f1f1f" stroke-width="1.2"/>
<circle cx="847.0" cy="948.5" r="7.0" fill="#686868" stroke="#1f1f1f" stroke-width="1.2"/>
<circle cx="847.0" cy="960.7" r="7.0" fill="#686868" stroke="#1f1f1f" stroke-width="1.2"/>
<circle cx="847.0" cy="968.2" r="7.0" fill="#686868" stroke="#1f1f1f" stroke-width="1.2"/>
<circle cx="847.0" cy="970.9" r="7.0" fill="#686868" stroke="#1f1f1f" stroke-width="1.2"/>
<circle cx="847.0" cy="984.5" r="7.0" fill="#686868" stroke="#1f1f1f" stroke-width="1.2"/>
<circle cx="847.0" cy="1006.8" r="7.0" fill="#686868" stroke="#1f1f1f" stroke-width="1.2"/>
<circle cx="847.0" cy="1022.4" r="7.0" fill="#686868" stroke="#1f1f1f" stroke-width="1.2"/>
<rect x="886.0" y="946.2" width="11.4" height="11.4" fill="#686868" stroke="#1f1f1f" stroke-width="1.1"/>
<rect x="886.0" y="964.5" width="11.4" height="11.4" fill="#686868" stroke="#1f1f1f" stroke-width="1.1"/>
<rect x="886.0" y="967.9" width="11.4" height="11.4" fill="#686868" stroke="#1f1f1f" stroke-width="1.1"/>
<rect x="886.0" y="976.7" width="11.4" height="11.4" fill="#686868" stroke="#1f1f1f" stroke-width="1.1"/>
<rect x="886.0" y="986.9" width="11.4" height="11.4" fill="#686868" stroke="#1f1f1f" stroke-width="1.1"/>
<rect x="886.0" y="1000.5" width="11.4" height="11.4" fill="#686868" stroke="#1f1f1f" stroke-width="1.1"/>
<rect x="886.0" y="1037.1" width="11.4" height="11.4" fill="#686868" stroke="#1f1f1f" stroke-width="1.1"/>
<rect x="886.0" y="1066.9" width="11.4" height="11.4" fill="#686868" stroke="#1f1f1f" stroke-width="1.1"/>
<path d="M966.1,946.5L1011.1,951.9 M966.1,960.7L1011.1,965.5 M966.1,980.4L1011.1,974.3 M966.1,980.4L1011.1,994.0 M966.1,986.5L1011.1,965.5 M966.1,990.6L1011.1,1004.1 M966.1,997.3L1011.1,1008.2 M966.1,1036.7L1011.1,1055.7 M966.1,986.5L1011.1,994.0" fill="none" stroke="#222" stroke-width="1.1"/>
<circle cx="966.1" cy="946.5" r="7.0" fill="#686868" stroke="#1f1f1f" stroke-width="1.2"/>
<circle cx="966.1" cy="960.7" r="7.0" fill="#686868" stroke="#1f1f1f" stroke-width="1.2"/>
<circle cx="966.1" cy="980.4" r="7.0" fill="#686868" stroke="#1f1f1f" stroke-width="1.2"/>
<circle cx="966.1" cy="986.5" r="7.0" fill="#686868" stroke="#1f1f1f" stroke-width="1.2"/>
<circle cx="966.1" cy="990.6" r="7.0" fill="#686868" stroke="#1f1f1f" stroke-width="1.2"/>
<circle cx="966.1" cy="997.3" r="7.0" fill="#686868" stroke="#1f1f1f" stroke-width="1.2"/>
<circle cx="966.1" cy="1036.7" r="7.0" fill="#686868" stroke="#1f1f1f" stroke-width="1.2"/>
<rect x="1005.4" y="946.2" width="11.4" height="11.4" fill="#686868" stroke="#1f1f1f" stroke-width="1.1"/>
<rect x="1005.4" y="959.8" width="11.4" height="11.4" fill="#686868" stroke="#1f1f1f" stroke-width="1.1"/>
<rect x="1005.4" y="968.6" width="11.4" height="11.4" fill="#686868" stroke="#1f1f1f" stroke-width="1.1"/>
<rect x="1005.4" y="988.3" width="11.4" height="11.4" fill="#686868" stroke="#1f1f1f" stroke-width="1.1"/>
<rect x="1005.4" y="998.4" width="11.4" height="11.4" fill="#686868" stroke="#1f1f1f" stroke-width="1.1"/>
<rect x="1005.4" y="1002.5" width="11.4" height="11.4" fill="#686868" stroke="#1f1f1f" stroke-width="1.1"/>
<rect x="1005.4" y="1050.0" width="11.4" height="11.4" fill="#686868" stroke="#1f1f1f" stroke-width="1.1"/>
<circle cx="809.0" cy="1237.6" r="8.5" fill="#686868" stroke="#1f1f1f" stroke-width="1.3"/>
<text x="831.0" y="1246.0" font-size="29.3" font-weight="normal" text-anchor="start" fill="#111" >3w post-boost</text>
<rect x="1111.8" y="1229.1" width="17" height="17" fill="#686868" stroke="#1f1f1f" stroke-width="1.3"/>
<text x="1147.5" y="1246.0" font-size="29.3" font-weight="normal" text-anchor="start" fill="#111" >15w post-boost</text>
<text x="1091.5" y="797.2" font-size="39" font-weight="bold" text-anchor="start" fill="#111" >e</text>
<line x1="1212.6" y1="827.8" x2="1212.6" y2="1104.0" stroke="#111" stroke-width="2" />
<line x1="1211.6" y1="1103.0" x2="1555.2" y2="1103.0" stroke="#111" stroke-width="2" />
<line x1="1201.6" y1="1103.0" x2="1212.6" y2="1103.0" stroke="#111" stroke-width="2" />
<text x="1197.6" y="1111.6" font-size="23" font-weight="bold" text-anchor="end" fill="#111">10<tspan font-size="15.6" dy="-9.7">3</tspan></text>
<line x1="1201.6" y1="1048.2" x2="1212.6" y2="1048.2" stroke="#111" stroke-width="2" />
<text x="1197.6" y="1056.8" font-size="23" font-weight="bold" text-anchor="end" fill="#111">10<tspan font-size="15.6" dy="-9.7">4</tspan></text>
<line x1="1201.6" y1="993.3" x2="1212.6" y2="993.3" stroke="#111" stroke-width="2" />
<text x="1197.6" y="1001.9" font-size="23" font-weight="bold" text-anchor="end" fill="#111">10<tspan font-size="15.6" dy="-9.7">5</tspan></text>
<line x1="1201.6" y1="938.5" x2="1212.6" y2="938.5" stroke="#111" stroke-width="2" />
<text x="1197.6" y="947.1" font-size="23" font-weight="bold" text-anchor="end" fill="#111">10<tspan font-size="15.6" dy="-9.7">6</tspan></text>
<line x1="1201.6" y1="883.6" x2="1212.6" y2="883.6" stroke="#111" stroke-width="2" />
<text x="1197.6" y="892.2" font-size="23" font-weight="bold" text-anchor="end" fill="#111">10<tspan font-size="15.6" dy="-9.7">7</tspan></text>
<line x1="1201.6" y1="828.8" x2="1212.6" y2="828.8" stroke="#111" stroke-width="2" />
<text x="1197.6" y="837.4" font-size="23" font-weight="bold" text-anchor="end" fill="#111">10<tspan font-size="15.6" dy="-9.7">8</tspan></text>
<line x1="1264.9" y1="1103.0" x2="1264.9" y2="1114.0" stroke="#111" stroke-width="2" />
<line x1="1383.7" y1="1103.0" x2="1383.7" y2="1114.0" stroke="#111" stroke-width="2" />
<line x1="1502.9" y1="1103.0" x2="1502.9" y2="1114.0" stroke="#111" stroke-width="2" />
<text x="1264.9" y="1139.1" font-size="23" font-weight="bold" text-anchor="middle" fill="#111" >1273</text>
<text x="1264.9" y="1166.3" font-size="23" font-weight="bold" text-anchor="middle" fill="#111" >1273</text>
<text x="1264.9" y="1193.5" font-size="23" font-weight="bold" text-anchor="middle" fill="#111" >1273</text>
<text x="1383.7" y="1139.1" font-size="23" font-weight="bold" text-anchor="middle" fill="#111" >529</text>
<text x="1383.7" y="1166.3" font-size="23" font-weight="bold" text-anchor="middle" fill="#111" >529</text>
<text x="1383.7" y="1193.5" font-size="23" font-weight="bold" text-anchor="middle" fill="#111" >529</text>
<text x="1502.9" y="1139.1" font-size="23" font-weight="bold" text-anchor="middle" fill="#111" >1273</text>
<text x="1502.9" y="1166.3" font-size="23" font-weight="bold" text-anchor="middle" fill="#111" >1273</text>
<text x="1502.9" y="1193.5" font-size="23" font-weight="bold" text-anchor="middle" fill="#111" >529</text>
<line x1="1212.6" y1="1075.6" x2="1555.2" y2="1075.6" stroke="#000" stroke-width="3.2" stroke-linecap="round" stroke-dasharray="0 5.59"/>
<text x="1267.4" y="856.0" font-size="23" font-weight="normal" text-anchor="middle" fill="#111" >1.6</text>
<text x="1386.2" y="856.0" font-size="23" font-weight="normal" text-anchor="middle" fill="#111" >0.7</text>
<text x="1505.4" y="856.0" font-size="23" font-weight="normal" text-anchor="middle" fill="#111" >2.0</text>
<line x1="1720.8" y1="827.8" x2="1720.8" y2="1104.0" stroke="#111" stroke-width="2" />
<line x1="1719.8" y1="1103.0" x2="2063.4" y2="1103.0" stroke="#111" stroke-width="2" />
<line x1="1709.8" y1="1103.0" x2="1720.8" y2="1103.0" stroke="#111" stroke-width="2" />
<text x="1705.8" y="1111.6" font-size="23" font-weight="bold" text-anchor="end" fill="#111">10<tspan font-size="15.6" dy="-9.7">3</tspan></text>
<line x1="1709.8" y1="1048.2" x2="1720.8" y2="1048.2" stroke="#111" stroke-width="2" />
<text x="1705.8" y="1056.8" font-size="23" font-weight="bold" text-anchor="end" fill="#111">10<tspan font-size="15.6" dy="-9.7">4</tspan></text>
<line x1="1709.8" y1="993.3" x2="1720.8" y2="993.3" stroke="#111" stroke-width="2" />
<text x="1705.8" y="1001.9" font-size="23" font-weight="bold" text-anchor="end" fill="#111">10<tspan font-size="15.6" dy="-9.7">5</tspan></text>
<line x1="1709.8" y1="938.5" x2="1720.8" y2="938.5" stroke="#111" stroke-width="2" />
<text x="1705.8" y="947.1" font-size="23" font-weight="bold" text-anchor="end" fill="#111">10<tspan font-size="15.6" dy="-9.7">6</tspan></text>
<line x1="1709.8" y1="883.6" x2="1720.8" y2="883.6" stroke="#111" stroke-width="2" />
<text x="1705.8" y="892.2" font-size="23" font-weight="bold" text-anchor="end" fill="#111">10<tspan font-size="15.6" dy="-9.7">7</tspan></text>
<line x1="1709.8" y1="828.8" x2="1720.8" y2="828.8" stroke="#111" stroke-width="2" />
<text x="1705.8" y="837.4" font-size="23" font-weight="bold" text-anchor="end" fill="#111">10<tspan font-size="15.6" dy="-9.7">8</tspan></text>
<line x1="1773.1" y1="1103.0" x2="1773.1" y2="1114.0" stroke="#111" stroke-width="2" />
<line x1="1891.9" y1="1103.0" x2="1891.9" y2="1114.0" stroke="#111" stroke-width="2" />
<line x1="2011.1" y1="1103.0" x2="2011.1" y2="1114.0" stroke="#111" stroke-width="2" />
<text x="1773.1" y="1139.1" font-size="23" font-weight="bold" text-anchor="middle" fill="#111" >1273</text>
<text x="1773.1" y="1166.3" font-size="23" font-weight="bold" text-anchor="middle" fill="#111" >1273</text>
<text x="1773.1" y="1193.5" font-size="23" font-weight="bold" text-anchor="middle" fill="#111" >1273</text>
<text x="1891.9" y="1139.1" font-size="23" font-weight="bold" text-anchor="middle" fill="#111" >529</text>
<text x="1891.9" y="1166.3" font-size="23" font-weight="bold" text-anchor="middle" fill="#111" >529</text>
<text x="1891.9" y="1193.5" font-size="23" font-weight="bold" text-anchor="middle" fill="#111" >529</text>
<text x="2011.1" y="1139.1" font-size="23" font-weight="bold" text-anchor="middle" fill="#111" >1273</text>
<text x="2011.1" y="1166.3" font-size="23" font-weight="bold" text-anchor="middle" fill="#111" >1273</text>
<text x="2011.1" y="1193.5" font-size="23" font-weight="bold" text-anchor="middle" fill="#111" >529</text>
<line x1="1720.8" y1="1075.6" x2="2063.4" y2="1075.6" stroke="#000" stroke-width="3.2" stroke-linecap="round" stroke-dasharray="0 5.59"/>
<text x="1775.6" y="856.0" font-size="23" font-weight="normal" text-anchor="middle" fill="#111" >N/A</text>
<text x="1894.4" y="856.0" font-size="23" font-weight="normal" text-anchor="middle" fill="#111" >1.5</text>
<text x="2013.6" y="856.0" font-size="23" font-weight="normal" text-anchor="middle" fill="#111" >1.9</text>
<text transform="translate(1148,961.8) rotate(-90)" font-size="22.2" font-weight="bold" text-anchor="middle" fill="#111">Wuhan-1<tspan font-size="15" dy="-9">+</tspan><tspan dy="9"> BA.1</tspan><tspan font-size="15" dy="-9">-</tspan><tspan dy="9"> IgG (ng/mL eq.)</tspan></text>
<text transform="translate(1656.5,960.8) rotate(-90)" font-size="22.2" font-weight="bold" text-anchor="middle" fill="#111">BA.1<tspan font-size="15" dy="-9">+</tspan><tspan dy="9"> Wuhan-1</tspan><tspan font-size="15" dy="-9">-</tspan><tspan dy="9"> IgG (ng/mL eq.)</tspan></text>
<path d="M1242.6,929.3L1287.5,954.5 M1242.6,933.6L1287.5,943.7 M1242.6,936.5L1287.5,956.6 M1242.6,941.5L1287.5,981.0 M1242.6,954.5L1287.5,943.7 M1242.6,959.5L1287.5,968.8 M1242.6,954.5L1287.5,981.0 M1242.6,941.5L1287.5,954.5 M1242.6,997.2L1287.5,996.1" fill="none" stroke="#222" stroke-width="1.1"/>
<circle cx="1242.6" cy="929.3" r="7.0" fill="#47a3e0" stroke="#1f1f1f" stroke-width="1.2"/>
<circle cx="1242.6" cy="933.6" r="7.0" fill="#47a3e0" stroke="#1f1f1f" stroke-width="1.2"/>
<circle cx="1242.6" cy="936.5" r="7.0" fill="#47a3e0" stroke="#1f1f1f" stroke-width="1.2"/>
<circle cx="1242.6" cy="941.5" r="7.0" fill="#47a3e0" stroke="#1f1f1f" stroke-width="1.2"/>
<circle cx="1242.6" cy="954.5" r="7.0" fill="#47a3e0" stroke="#1f1f1f" stroke-width="1.2"/>
<circle cx="1242.6" cy="959.5" r="7.0" fill="#47a3e0" stroke="#1f1f1f" stroke-width="1.2"/>
<circle cx="1242.6" cy="997.2" r="7.0" fill="#47a3e0" stroke="#1f1f1f" stroke-width="1.2"/>
<rect x="1281.8" y="938.0" width="11.4" height="11.4" fill="#47a3e0" stroke="#1f1f1f" stroke-width="1.1"/>
<rect x="1281.8" y="948.8" width="11.4" height="11.4" fill="#47a3e0" stroke="#1f1f1f" stroke-width="1.1"/>
<rect x="1281.8" y="950.9" width="11.4" height="11.4" fill="#47a3e0" stroke="#1f1f1f" stroke-width="1.1"/>
<rect x="1281.8" y="963.1" width="11.4" height="11.4" fill="#47a3e0" stroke="#1f1f1f" stroke-width="1.1"/>
<rect x="1281.8" y="975.3" width="11.4" height="11.4" fill="#47a3e0" stroke="#1f1f1f" stroke-width="1.1"/>
<rect x="1281.8" y="990.4" width="11.4" height="11.4" fill="#47a3e0" stroke="#1f1f1f" stroke-width="1.1"/>
<path d="M1361.8,1044.0L1406.3,986.0 M1361.8,1044.0L1406.3,1016.2 M1361.8,1040.1L1406.3,1051.6 M1361.8,1051.6L1406.3,1051.6 M1361.8,1051.6L1406.3,1079.4 M1361.8,1065.1L1406.3,1086.6 M1361.8,1075.6L1406.3,1044.0 M1361.8,1086.1L1406.3,1079.4 M1361.8,1075.6L1406.3,1086.6 M1361.8,1086.1L1406.3,1072.7" fill="none" stroke="#222" stroke-width="1.1"/>
<circle cx="1361.8" cy="1040.1" r="7.0" fill="#47a3e0" stroke="#1f1f1f" stroke-width="1.2"/>
<circle cx="1361.8" cy="1044.0" r="7.0" fill="#47a3e0" stroke="#1f1f1f" stroke-width="1.2"/>
<circle cx="1361.8" cy="1051.6" r="7.0" fill="#47a3e0" stroke="#1f1f1f" stroke-width="1.2"/>
<circle cx="1361.8" cy="1065.1" r="7.0" fill="#47a3e0" stroke="#1f1f1f" stroke-width="1.2"/>
<circle cx="1361.8" cy="1075.6" r="7.0" fill="#47a3e0" stroke="#1f1f1f" stroke-width="1.2"/>
<circle cx="1361.8" cy="1086.1" r="7.0" fill="#47a3e0" stroke="#1f1f1f" stroke-width="1.2"/>
<rect x="1400.6" y="980.3" width="11.4" height="11.4" fill="#47a3e0" stroke="#1f1f1f" stroke-width="1.1"/>
<rect x="1400.6" y="1010.5" width="11.4" height="11.4" fill="#47a3e0" stroke="#1f1f1f" stroke-width="1.1"/>
<rect x="1400.6" y="1038.3" width="11.4" height="11.4" fill="#47a3e0" stroke="#1f1f1f" stroke-width="1.1"/>
<rect x="1400.6" y="1045.9" width="11.4" height="11.4" fill="#47a3e0" stroke="#1f1f1f" stroke-width="1.1"/>
<rect x="1400.6" y="1067.0" width="11.4" height="11.4" fill="#47a3e0" stroke="#1f1f1f" stroke-width="1.1"/>
<rect x="1400.6" y="1073.7" width="11.4" height="11.4" fill="#47a3e0" stroke="#1f1f1f" stroke-width="1.1"/>
<rect x="1400.6" y="1080.9" width="11.4" height="11.4" fill="#47a3e0" stroke="#1f1f1f" stroke-width="1.1"/>
<path d="M1480.6,948.0L1525.5,943.7 M1480.6,962.6L1525.5,956.7 M1480.6,966.5L1525.5,968.5 M1480.6,966.5L1525.5,976.4 M1480.6,992.1L1525.5,976.4 M1480.6,998.0L1525.5,1004.7 M1480.6,1003.1L1525.5,1029.9 M1480.6,1028.3L1525.5,1067.6 M1480.6,1049.1L1525.5,1086.5" fill="none" stroke="#222" stroke-width="1.1"/>
<circle cx="1480.6" cy="948.0" r="7.0" fill="#47a3e0" stroke="#1f1f1f" stroke-width="1.2"/>
<circle cx="1480.6" cy="962.6" r="7.0" fill="#47a3e0" stroke="#1f1f1f" stroke-width="1.2"/>
<circle cx="1480.6" cy="966.5" r="7.0" fill="#47a3e0" stroke="#1f1f1f" stroke-width="1.2"/>
<circle cx="1480.6" cy="992.1" r="7.0" fill="#47a3e0" stroke="#1f1f1f" stroke-width="1.2"/>
<circle cx="1480.6" cy="998.0" r="7.0" fill="#47a3e0" stroke="#1f1f1f" stroke-width="1.2"/>
<circle cx="1480.6" cy="1003.1" r="7.0" fill="#47a3e0" stroke="#1f1f1f" stroke-width="1.2"/>
<circle cx="1480.6" cy="1028.3" r="7.0" fill="#47a3e0" stroke="#1f1f1f" stroke-width="1.2"/>
<circle cx="1480.6" cy="1049.1" r="7.0" fill="#47a3e0" stroke="#1f1f1f" stroke-width="1.2"/>
<rect x="1519.8" y="938.0" width="11.4" height="11.4" fill="#47a3e0" stroke="#1f1f1f" stroke-width="1.1"/>
<rect x="1519.8" y="951.0" width="11.4" height="11.4" fill="#47a3e0" stroke="#1f1f1f" stroke-width="1.1"/>
<rect x="1519.8" y="962.8" width="11.4" height="11.4" fill="#47a3e0" stroke="#1f1f1f" stroke-width="1.1"/>
<rect x="1519.8" y="970.7" width="11.4" height="11.4" fill="#47a3e0" stroke="#1f1f1f" stroke-width="1.1"/>
<rect x="1519.8" y="999.0" width="11.4" height="11.4" fill="#47a3e0" stroke="#1f1f1f" stroke-width="1.1"/>
<rect x="1519.8" y="1024.2" width="11.4" height="11.4" fill="#47a3e0" stroke="#1f1f1f" stroke-width="1.1"/>
<rect x="1519.8" y="1061.9" width="11.4" height="11.4" fill="#47a3e0" stroke="#1f1f1f" stroke-width="1.1"/>
<rect x="1519.8" y="1080.8" width="11.4" height="11.4" fill="#47a3e0" stroke="#1f1f1f" stroke-width="1.1"/>
<path d="M1751.1,1086.5L1795.6,1086.5" fill="none" stroke="#222" stroke-width="1.1"/>
<circle cx="1751.1" cy="1086.5" r="7.0" fill="#eee22f" stroke="#1f1f1f" stroke-width="1.2"/>
<rect x="1789.9" y="1080.8" width="11.4" height="11.4" fill="#eee22f" stroke="#1f1f1f" stroke-width="1.1"/>
<path d="M1870.1,961.4L1914.7,977.5 M1870.1,989.5L1914.7,988.3 M1870.1,995.5L1914.7,996.1 M1870.1,995.5L1914.7,1000.3 M1870.1,1000.3L1914.7,1008.7 M1870.1,1003.9L1914.7,1020.6 M1870.1,1000.3L1914.7,1020.6 M1870.1,1043.4L1914.7,1072.7 M1870.1,1067.3L1914.7,1087.1" fill="none" stroke="#222" stroke-width="1.1"/>
<circle cx="1870.1" cy="961.4" r="7.0" fill="#eee22f" stroke="#1f1f1f" stroke-width="1.2"/>
<circle cx="1870.1" cy="989.5" r="7.0" fill="#eee22f" stroke="#1f1f1f" stroke-width="1.2"/>
<circle cx="1870.1" cy="995.5" r="7.0" fill="#eee22f" stroke="#1f1f1f" stroke-width="1.2"/>
<circle cx="1870.1" cy="1000.3" r="7.0" fill="#eee22f" stroke="#1f1f1f" stroke-width="1.2"/>
<circle cx="1870.1" cy="1003.9" r="7.0" fill="#eee22f" stroke="#1f1f1f" stroke-width="1.2"/>
<circle cx="1870.1" cy="1043.4" r="7.0" fill="#eee22f" stroke="#1f1f1f" stroke-width="1.2"/>
<circle cx="1870.1" cy="1067.3" r="7.0" fill="#eee22f" stroke="#1f1f1f" stroke-width="1.2"/>
<rect x="1909.0" y="971.8" width="11.4" height="11.4" fill="#eee22f" stroke="#1f1f1f" stroke-width="1.1"/>
<rect x="1909.0" y="982.6" width="11.4" height="11.4" fill="#eee22f" stroke="#1f1f1f" stroke-width="1.1"/>
<rect x="1909.0" y="990.4" width="11.4" height="11.4" fill="#eee22f" stroke="#1f1f1f" stroke-width="1.1"/>
<rect x="1909.0" y="994.6" width="11.4" height="11.4" fill="#eee22f" stroke="#1f1f1f" stroke-width="1.1"/>
<rect x="1909.0" y="1003.0" width="11.4" height="11.4" fill="#eee22f" stroke="#1f1f1f" stroke-width="1.1"/>
<rect x="1909.0" y="1014.9" width="11.4" height="11.4" fill="#eee22f" stroke="#1f1f1f" stroke-width="1.1"/>
<rect x="1909.0" y="1067.0" width="11.4" height="11.4" fill="#eee22f" stroke="#1f1f1f" stroke-width="1.1"/>
<rect x="1909.0" y="1081.4" width="11.4" height="11.4" fill="#eee22f" stroke="#1f1f1f" stroke-width="1.1"/>
<path d="M1989.1,1038.6L2034.0,1087.1 M1989.1,1046.4L2034.0,1075.7 M1989.1,1046.4L2034.0,1087.1 M1989.1,1056.0L2034.0,1063.1 M1989.1,1062.5L2034.0,1087.1 M1989.1,1075.1L2034.0,1055.4 M1989.1,1087.1L2034.0,1067.9 M1989.1,1062.5L2034.0,1075.7 M1989.1,1056.0L2034.0,1087.1" fill="none" stroke="#222" stroke-width="1.1"/>
<circle cx="1989.1" cy="1038.6" r="7.0" fill="#eee22f" stroke="#1f1f1f" stroke-width="1.2"/>
<circle cx="1989.1" cy="1046.4" r="7.0" fill="#eee22f" stroke="#1f1f1f" stroke-width="1.2"/>
<circle cx="1989.1" cy="1056.0" r="7.0" fill="#eee22f" stroke="#1f1f1f" stroke-width="1.2"/>
<circle cx="1989.1" cy="1062.5" r="7.0" fill="#eee22f" stroke="#1f1f1f" stroke-width="1.2"/>
<circle cx="1989.1" cy="1075.1" r="7.0" fill="#eee22f" stroke="#1f1f1f" stroke-width="1.2"/>
<circle cx="1989.1" cy="1087.1" r="7.0" fill="#eee22f" stroke="#1f1f1f" stroke-width="1.2"/>
<rect x="2028.3" y="1049.7" width="11.4" height="11.4" fill="#eee22f" stroke="#1f1f1f" stroke-width="1.1"/>
<rect x="2028.3" y="1057.4" width="11.4" height="11.4" fill="#eee22f" stroke="#1f1f1f" stroke-width="1.1"/>
<rect x="2028.3" y="1062.2" width="11.4" height="11.4" fill="#eee22f" stroke="#1f1f1f" stroke-width="1.1"/>
<rect x="2028.3" y="1070.0" width="11.4" height="11.4" fill="#eee22f" stroke="#1f1f1f" stroke-width="1.1"/>
<rect x="2028.3" y="1081.4" width="11.4" height="11.4" fill="#eee22f" stroke="#1f1f1f" stroke-width="1.1"/>
</svg></body></html>
